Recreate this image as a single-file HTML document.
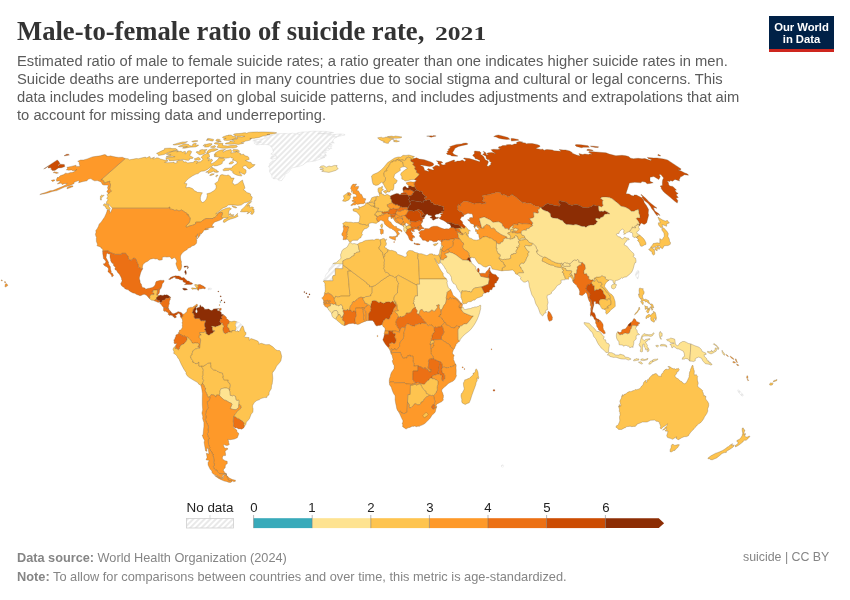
<!DOCTYPE html>
<html><head><meta charset="utf-8">
<style>
html,body{margin:0;padding:0;background:#fff;}
body{width:850px;height:600px;overflow:hidden;position:relative;font-family:"Liberation Sans",sans-serif;}
.abs{position:absolute;white-space:nowrap;will-change:transform;}
#title{left:17px;top:15px;font-family:"Liberation Serif",serif;font-weight:bold;font-size:26.64px;line-height:32px;color:#333;}
#sub{left:16.5px;top:52px;font-size:14.75px;line-height:18px;color:#5b5b5b;}
#foot1{left:16.5px;top:550px;font-size:12.72px;line-height:15px;color:#858585;}
#foot2{left:16.5px;top:569px;font-size:12.8px;line-height:15px;color:#858585;}
#foot3{right:21px;top:549.5px;font-size:12.37px;line-height:15px;color:#858585;}
#logo{left:769px;top:16px;width:65px;height:36px;background:linear-gradient(#002147 0,#002147 33.2px,#ce261e 33.2px,#ce261e 36px);color:#fff;font-weight:bold;font-size:11.3px;line-height:12px;text-align:center;letter-spacing:-0.05px;}
#logo div{margin-top:4.9px;}
.lg{top:500px;width:60px;text-align:center;line-height:15px;color:#222;}
svg{position:absolute;left:0;top:0;}
</style></head><body>
<svg width="850" height="600" viewBox="0 0 850 600">
<defs>
<pattern id="h" width="4" height="4" patternUnits="userSpaceOnUse" patternTransform="translate(2.4,0) rotate(45)"><rect width="4" height="4" fill="#fff"/><line x1="2" y1="-1" x2="2" y2="5" stroke="#e5e5e5" stroke-width="1.65"/></pattern>
</defs>
<g id="map" stroke="#6f5a3a" stroke-width="0.3" stroke-linejoin="round">
<path fill="#fec44f" d="M125.2 158.5L128.1 158.7L129.4 159.8L133.5 159.1L136.3 158.5L138.6 158.7L142.1 157.8L145.6 157.1L145.7 158.0L147.4 157.6L149.2 156.5L150.1 156.7L150.5 158.7L154.6 157.1L152.8 158.9L155.3 158.5L156.7 157.8L158.5 158.0L160.2 158.9L163.2 159.8L165.1 160.2L167.0 160.0L168.1 161.1L164.6 162.3L167.3 162.7L172.1 162.5L174.1 162.0L174.5 163.4L177.5 162.3L176.6 161.4L178.5 160.5L180.6 160.5L182.1 160.2L183.2 160.7L183.7 162.0L185.8 161.8L187.7 162.9L190.8 162.5L193.4 162.5L194.2 161.1L196.1 160.7L198.1 161.6L196.4 163.6L198.9 161.8L200.3 161.8L203.0 159.6L202.3 158.2L201.0 157.4L203.3 155.0L206.7 153.4L208.6 153.7L209.3 154.7L209.6 157.1L207.1 158.2L210.0 158.7L208.0 160.9L211.8 159.1L212.6 160.7L210.9 162.3L211.4 163.9L214.3 162.3L217.0 160.2L219.1 157.8L221.3 158.0L223.6 158.2L225.0 159.4L224.4 160.5L222.1 161.8L222.5 162.9L221.5 164.1L217.1 165.7L214.5 165.9L213.1 165.2L211.8 166.4L208.7 168.4L207.5 169.4L204.3 171.0L201.6 171.2L199.5 172.2L198.3 173.6L196.0 174.1L192.3 176.0L188.6 178.6L186.5 180.5L184.4 183.4L187.0 183.7L186.2 186.1L186.0 187.8L189.0 187.3L192.0 188.3L193.4 189.3L194.0 190.5L195.9 191.3L197.4 192.3L200.4 192.5L202.4 192.8L201.2 194.8L200.4 197.3L200.4 200.1L202.2 202.6L204.2 201.8L206.5 199.0L207.4 195.3L206.8 193.8L210.4 192.8L213.4 191.0L215.5 189.3L216.2 187.6L216.0 185.4L214.7 183.7L218.4 181.0L218.7 178.8L220.3 175.2L222.0 174.5L224.6 175.2L226.3 175.5L228.2 175.0L229.5 175.7L230.9 177.1L230.9 178.1L234.2 178.1L233.1 180.3L232.2 183.2L233.7 183.7L234.5 185.1L237.8 183.7L241.0 181.0L242.5 180.0L243.0 182.2L244.1 185.1L245.0 188.1L243.5 189.8L245.5 191.0L246.6 192.5L249.5 193.3L250.6 194.0L250.6 196.0L251.8 196.5L252.3 197.3L251.5 200.3L249.8 201.1L248.1 202.1L244.4 202.8L241.2 205.1L237.7 205.4L233.5 204.9L230.4 204.9L228.3 205.1L226.0 206.9L223.0 207.9L218.7 211.5L215.6 213.8L217.4 213.3L222.0 210.0L227.0 207.9L230.1 207.7L231.4 209.0L229.1 210.5L228.7 213.3L228.7 215.4L231.0 216.7L234.7 216.2L237.6 213.3L237.3 215.1L238.2 216.2L235.3 217.7L230.1 219.3L227.8 220.3L224.6 222.4L223.2 222.1L223.8 219.8L228.2 217.7L224.8 217.7L222.4 218.2L221.4 216.7L222.6 213.1L222.1 212.3L220.5 212.8L220.1 212.2L217.7 214.1L216.4 216.2L215.2 217.2L214.2 217.7L213.6 217.7L213.1 218.5L209.3 218.5L206.0 218.5L205.0 219.0L202.0 220.8L201.7 221.1L200.7 222.1L196.7 222.1L195.5 222.4L195.8 222.9L195.6 224.0L192.4 225.3L189.9 225.8L187.0 227.1L186.4 227.1L185.9 226.8L185.9 226.1L188.3 223.7L189.5 222.1L189.9 220.1L190.2 217.7L188.7 216.4L189.1 215.9L188.4 215.7L188.2 215.1L188.4 214.6L187.2 214.9L187.0 214.4L187.2 213.6L181.6 210.0L179.4 210.8L178.7 210.8L176.7 210.0L174.8 210.5L173.2 209.6L171.3 209.2L170.0 209.0L169.5 208.7L169.9 207.2L169.2 207.2L168.6 208.2L112.4 208.2L109.8 205.6L109.1 204.6L106.2 203.6L106.8 201.3L108.2 199.8L106.7 198.5L107.9 196.5L107.0 194.8L108.1 193.5L110.1 192.3L111.4 190.8L109.5 189.2L110.2 186.3L110.5 184.6L109.9 183.5L109.6 182.5L109.8 181.2L107.2 182.0L104.0 183.4L103.9 181.8L103.7 180.8L102.6 180.0L100.8 180.0ZM255.1 164.6L253.7 166.2L249.3 168.9L247.6 168.0L246.1 165.7L243.6 166.0L242.7 167.3L243.8 168.7L245.7 169.7L246.1 170.3L246.0 172.6L244.6 174.4L242.5 173.7L239.0 171.8L240.5 173.8L241.8 175.2L241.5 176.1L237.0 175.2L234.0 173.8L232.5 172.6L233.4 171.9L231.4 170.8L229.6 169.6L229.2 170.3L223.7 170.8L222.7 169.9L224.9 168.2L228.3 168.2L232.0 167.9L232.0 167.1L233.3 165.9L236.9 163.6L237.1 162.7L236.9 161.8L235.1 160.7L232.0 160.0L233.5 159.5L232.7 158.0L231.2 158.0L230.4 157.1L229.1 157.8L225.8 158.2L220.2 157.6L217.1 156.9L214.6 156.7L214.0 155.8L216.4 155.0L214.1 155.0L215.4 152.8L218.4 150.9L220.8 150.0L225.5 149.4L223.1 150.7L223.1 152.2L226.1 150.5L231.0 149.5L231.9 151.7L230.7 153.0L234.3 152.5L236.5 151.6L239.2 152.8L240.9 153.7L240.3 154.7L243.8 154.2L244.5 155.6L247.9 156.5L248.8 157.4L249.2 159.4L245.4 160.5L248.6 161.9L251.0 162.4L252.4 164.5ZM192.5 158.5L189.4 158.7L189.6 159.6L188.4 160.4L185.7 160.0L183.2 159.4L181.2 159.6L177.3 160.2L169.3 160.9L169.5 159.8L167.9 159.1L166.2 159.4L165.9 157.7L170.1 157.1L172.5 157.1L175.1 156.7L172.3 156.3L168.5 156.5L166.2 156.5L171.1 154.7L168.5 154.7L166.3 154.2L169.5 152.6L171.6 151.7L177.4 150.5L178.5 150.9L176.7 151.8L181.2 151.1L182.0 152.3L185.1 151.2L185.7 151.9L184.9 154.0L186.6 153.1L187.8 150.9L189.5 150.7L190.9 150.9L191.7 151.8L190.6 153.9L189.6 155.4L191.3 156.5L193.3 157.6ZM168.9 152.2L164.1 154.5L158.5 155.6L158.7 154.7L156.5 153.4L158.2 152.6L161.2 151.1L164.5 149.6L164.5 148.4L170.3 148.1L171.9 148.6L175.8 148.6L176.7 149.2L177.4 150.0L174.6 150.7L168.9 152.2ZM268.2 132.1L271.8 132.2L274.5 132.4L276.7 132.8L276.2 133.2L272.2 134.0L268.5 134.3L266.9 134.6L269.9 134.6L265.7 135.6L262.8 136.1L259.0 137.5L255.7 137.9L254.4 138.3L249.8 138.4L251.7 138.6L250.3 139.0L250.5 139.9L248.6 140.5L245.6 141.1L244.1 141.9L241.5 142.5L241.3 142.9L243.9 142.9L243.5 143.3L238.3 144.5L234.7 144.0L230.0 144.3L227.9 144.1L225.2 143.9L226.0 143.0L229.3 142.5L230.1 141.1L231.2 141.0L234.2 141.9L233.7 140.5L231.7 140.1L233.6 139.4L236.7 139.0L237.9 138.4L236.6 137.7L237.1 136.8L240.9 136.8L241.9 137.0L244.9 136.3L241.8 136.1L236.6 136.3L234.8 135.7L234.6 135.0L233.4 134.5L233.9 134.0L236.4 133.6L238.1 133.6L241.2 133.3L244.0 132.8L245.6 132.8L246.5 133.3L248.7 132.4L250.7 132.2L253.4 132.1L257.7 131.9L258.3 132.1L262.5 131.9L265.3 132.0L268.2 132.1ZM237.0 147.1L235.6 147.6L232.8 148.1L231.1 147.8L226.2 148.2L222.9 148.2L220.6 148.0L217.1 147.3L217.7 146.1L218.6 145.1L218.0 144.3L215.1 144.0L214.1 143.4L215.7 142.6L218.6 142.7L219.6 143.3L222.6 143.3L223.2 144.0L222.0 144.8L223.3 145.2L223.7 145.7L225.8 145.8L227.8 146.0L230.8 145.5L234.1 145.3L236.5 145.5L237.4 146.2L237.0 147.1ZM235.8 137.8L236.8 138.4L234.2 138.9L229.9 140.3L227.0 140.5L224.2 140.2L223.6 139.5L224.4 138.8L226.2 138.3L223.5 138.3L222.6 137.7L222.8 136.9L226.5 135.6L228.1 135.5L228.0 135.1L231.4 135.0L232.0 136.0L235.9 136.7L235.8 137.8ZM195.7 146.9L190.0 147.2L184.9 148.2L182.5 148.2L183.0 147.5L187.4 146.6L180.1 146.8L178.3 146.5L183.2 144.5L185.5 143.9L188.8 144.6L190.0 145.8L192.5 146.0L192.8 144.0L195.2 143.3L196.4 143.5L195.7 144.5L195.4 145.2L197.2 144.9L198.7 145.0L197.8 145.9L195.7 146.9ZM212.7 167.4L212.3 168.4L213.5 168.0L214.1 168.7L215.5 169.4L217.1 170.2L216.5 171.3L218.0 171.1L218.7 171.9L216.6 172.6L214.2 172.1L213.9 171.0L211.3 172.2L208.0 173.5L208.2 172.1L205.7 172.3L208.0 171.1L209.5 169.4L211.5 167.3L212.7 167.4ZM202.2 149.4L203.7 149.8L206.9 149.5L206.8 150.1L204.3 151.1L205.9 152.0L203.8 154.0L200.2 154.8L198.9 154.6L198.4 153.9L196.0 152.2L196.7 151.5L199.9 151.7L199.6 150.3L202.2 149.4ZM211.7 151.5L208.4 153.2L206.7 153.1L207.4 151.2L208.4 150.3L210.2 149.3L212.3 148.7L215.6 148.8L218.2 149.3L214.0 151.2L211.7 151.5ZM211.9 143.5L212.0 144.4L210.8 145.4L208.4 146.9L205.6 147.1L204.3 146.8L205.7 145.6L202.9 145.8L204.8 144.2L206.3 144.3L209.5 143.6L211.5 143.7L211.9 143.5ZM215.6 146.9L213.9 147.8L211.7 147.6L210.4 147.1L212.2 146.2L215.0 145.6L215.6 146.3L215.6 146.9ZM187.5 141.6L185.2 143.1L182.9 143.8L181.4 143.9L177.3 144.8L174.4 145.1L172.9 144.7L172.9 144.7L177.7 143.2L182.7 141.9L185.0 141.9L187.5 141.6ZM196.7 141.5L193.1 142.1L191.7 141.5L193.9 140.8L196.3 140.6L198.0 140.9L196.7 141.5ZM207.9 138.4L210.5 138.7L213.6 139.4L213.4 140.3L213.0 141.1L210.9 140.9L209.2 140.2L206.0 140.2L208.2 139.6L207.0 139.2L207.9 138.4ZM216.0 140.0L217.1 139.2L218.7 139.3L219.5 139.4L220.4 140.1L219.2 140.8L216.5 141.2L215.8 140.7L216.0 140.0ZM220.9 141.8L220.1 141.9L217.5 141.8L217.7 141.2L220.7 141.3L221.3 141.6L220.9 141.8ZM251.0 202.3L249.5 203.9L247.4 206.1L249.1 205.3L250.2 205.8L249.2 206.7L250.8 207.4L251.9 206.8L253.6 207.6L252.5 209.5L254.1 209.0L254.0 210.3L254.2 211.9L252.7 214.2L251.8 214.4L250.5 213.8L251.5 211.8L251.0 211.4L248.0 213.6L246.8 213.6L248.6 212.3L246.8 211.7L244.6 211.9L240.6 211.8L240.6 211.0L242.1 210.1L241.5 209.5L243.6 207.9L247.0 203.9L248.7 202.4L250.8 201.5L251.7 201.6L251.0 202.3ZM110.1 209.5L108.9 209.8L106.2 208.7L106.3 207.7L105.0 206.9L105.2 206.1L103.4 205.6L103.7 204.3L104.3 203.7L106.0 204.2L106.9 204.6L108.6 204.9L108.8 205.6L108.9 207.0L110.2 208.0L110.1 209.5ZM231.8 206.0L232.6 205.7L235.0 206.4L236.7 207.4L236.6 207.9L235.6 208.0L233.2 207.2L231.8 206.0ZM230.4 213.2L230.7 214.5L232.1 214.8L234.1 214.8L232.7 215.8L231.9 216.0L229.6 214.9L229.4 214.0L230.4 213.2ZM101.5 195.1L102.2 195.4L104.2 195.2L101.3 198.1L101.4 200.1L100.6 200.1L100.3 198.9L100.5 197.8L100.2 197.0L100.7 195.9L101.5 195.1ZM194.1 158.9L196.2 158.2L198.3 157.3L199.4 157.9L200.1 158.3L200.2 158.7L200.5 159.6L198.8 160.3L197.1 159.7L195.5 159.9L194.1 158.9ZM211.0 175.6L209.8 175.5L209.8 174.9L211.8 173.8L214.3 173.8L214.0 174.3L211.0 175.6ZM217.1 175.0L217.8 175.1L217.9 175.6L216.5 176.8L215.8 176.6L215.8 175.9L215.9 175.7L217.1 175.0ZM232.8 161.4L233.7 162.0L233.1 163.0L232.7 163.3L231.2 164.0L229.1 164.1L229.4 163.0L231.0 161.7L232.8 161.4ZM234.2 149.5L237.6 149.7L239.5 150.9L239.2 151.5L237.5 151.4L235.8 151.4L233.8 151.6L233.4 151.5L232.6 150.4L233.3 149.6L234.2 149.5Z"/>
<path fill="#fe9929" d="M222.4 218.2L222.3 219.0L219.8 220.3L217.2 221.2L214.9 221.9L213.3 223.4L212.7 224.0L212.2 225.5L212.4 226.8L213.3 226.8L213.3 226.1L213.8 226.6L213.4 227.4L212.0 227.6L210.9 227.6L209.1 228.1L206.8 228.4L204.9 229.2L208.2 228.7L208.7 229.2L205.5 230.0L204.0 230.0L203.8 230.5L202.8 232.3L200.7 234.4L200.7 233.6L200.3 233.6L199.9 232.9L199.9 234.3L200.2 234.7L199.9 235.7L198.9 236.8L197.2 238.9L197.1 238.6L198.2 237.1L197.4 236.0L197.8 233.8L197.1 235.0L197.0 236.5L195.6 236.3L196.9 237.1L196.2 239.5L196.9 239.7L196.8 240.6L196.5 243.2L194.5 245.2L192.0 246.0L190.2 247.6L189.1 247.7L187.7 248.6L187.2 249.5L184.3 251.3L182.8 252.5L181.4 254.2L180.5 256.0L180.5 257.9L180.8 260.0L181.5 261.8L181.3 263.2L181.7 266.1L181.3 267.9L181.1 269.0L180.2 270.5L179.5 270.8L178.4 270.5L178.3 269.5L177.6 268.7L176.8 266.6L176.1 264.5L175.9 263.4L176.7 261.7L176.5 260.2L175.1 258.1L174.3 257.6L171.8 258.9L171.4 258.7L170.6 257.5L169.4 256.8L166.9 257.1L164.9 256.8L163.1 257.1L162.1 257.5L162.4 258.1L162.1 259.2L162.4 259.7L161.9 260.1L161.1 259.7L160.2 260.2L158.5 260.1L157.3 258.7L155.2 259.1L153.8 258.4L152.3 258.7L150.2 259.2L147.7 261.3L145.2 262.4L143.8 263.7L142.9 264.7L142.5 266.6L142.4 267.9L142.7 268.7L141.8 269.0L140.3 268.2L138.7 267.4L138.3 266.3L138.2 264.5L137.2 262.9L136.7 261.3L136.2 259.5L134.8 258.4L133.0 258.4L131.1 260.6L129.5 259.7L128.4 258.9L128.3 257.6L128.0 256.3L127.0 255.0L126.2 254.2L125.6 253.3L121.8 253.3L121.4 254.4L119.6 254.4L115.2 254.4L110.7 252.6L107.8 251.3L108.2 250.8L102.7 251.3L102.8 249.8L102.0 248.4L101.0 248.1L101.1 247.3L99.9 247.1L99.5 246.4L97.4 246.1L97.1 245.7L97.5 244.2L96.4 241.5L96.3 238.0L96.6 237.3L96.0 236.5L95.4 234.3L96.1 232.1L95.7 230.8L97.2 228.7L98.5 226.3L99.1 224.2L101.3 221.9L102.9 219.5L104.5 217.2L106.2 213.6L106.9 211.5L107.1 210.2L107.7 209.7L110.1 210.8L109.7 213.1L110.8 212.3L112.4 208.2L112.4 208.2L168.6 208.2L169.2 207.2L169.9 207.2L169.5 208.7L170.0 209.0L171.3 209.2L173.2 209.6L174.8 210.5L176.7 210.0L178.7 210.8L179.4 210.8L181.6 210.0L187.2 213.6L187.0 214.4L187.2 214.9L188.4 214.6L188.2 215.1L188.4 215.7L189.1 215.9L188.7 216.4L190.2 217.7L189.9 220.1L189.5 222.1L188.3 223.7L185.9 226.1L185.9 226.8L186.4 227.1L187.0 227.1L189.9 225.8L192.4 225.3L195.6 224.0L195.8 222.9L195.5 222.4L196.7 222.1L200.7 222.1L201.7 221.1L202.0 220.8L205.0 219.0L206.0 218.5L209.3 218.5L213.1 218.5L213.6 217.7L214.2 217.7L215.2 217.2L216.4 216.2L217.7 214.1L220.1 212.2L220.5 212.8L222.1 212.3L222.6 213.1L221.4 216.7ZM125.2 158.5L122.4 157.3L118.7 157.4L115.9 157.1L113.3 156.5L110.0 155.8L109.2 156.3L106.2 156.1L106.4 155.1L104.5 154.6L100.2 155.8L94.5 156.6L92.3 156.9L87.2 158.9L83.5 160.0L80.5 160.0L77.7 161.3L79.1 162.0L79.4 162.9L79.1 164.1L79.9 165.0L79.5 166.4L75.8 166.4L76.1 165.2L71.3 166.4L67.0 167.3L67.6 168.7L66.3 169.8L68.6 170.2L71.7 169.9L72.1 170.5L75.0 170.8L77.0 169.4L74.2 171.7L71.9 172.5L70.6 172.4L67.9 173.4L65.4 173.2L63.8 174.5L60.2 175.8L57.9 178.1L57.7 177.1L56.3 179.5L56.7 181.2L60.0 180.8L60.0 181.7L58.9 182.4L57.3 184.0L61.3 183.0L62.1 184.6L64.2 183.7L67.2 183.4L65.6 184.9L62.4 186.6L59.9 187.6L52.8 190.5L50.0 190.8L46.4 192.2L40.7 194.0L39.8 194.6L44.3 193.8L47.6 193.0L52.1 191.5L56.8 190.6L64.5 187.1L67.2 186.3L70.5 185.2L74.1 183.5L74.1 182.3L78.6 180.6L79.1 181.4L78.6 182.7L80.6 182.2L83.1 181.5L87.0 180.8L88.4 179.1L91.0 178.6L92.1 179.6L94.5 180.8L97.3 180.6L99.7 181.4L101.0 181.9L102.4 184.4L103.9 185.1L106.9 185.1L108.5 185.3L107.5 187.6L108.1 189.6L106.7 191.8L107.8 192.5L108.1 193.5L110.1 192.3L111.4 190.8L109.5 189.2L110.2 186.3L110.5 184.6L109.9 183.5L109.6 182.5L109.8 181.2L107.2 182.0L104.0 183.4L103.9 181.8L103.7 180.8L102.6 180.0L100.8 180.0ZM70.0 187.8L67.1 188.8L66.9 188.1L67.8 186.9L70.4 186.1L71.9 185.7L73.0 185.9L73.0 186.6L70.0 187.8ZM54.6 171.7L55.1 172.2L56.5 172.0L57.1 172.6L58.5 172.9L58.0 173.1L56.0 173.6L55.3 173.1L55.2 172.7L53.4 172.8L53.3 172.6L54.6 171.7ZM54.0 181.0L52.4 181.4L51.8 180.9L51.4 180.3L53.8 179.8L55.0 180.1L54.0 181.0ZM5.9 286.7L5.4 287.1L5.0 286.7L5.2 286.0L5.0 285.0L5.9 283.5L7.2 284.3L7.8 285.6L5.9 286.7ZM5.6 282.6L4.8 282.7L4.3 282.0L4.6 281.6L5.4 281.8L5.9 282.2L5.6 282.6ZM2.4 280.8L2.3 280.9L1.3 280.8L1.2 280.2L1.9 279.8L2.4 280.8ZM-1.0 279.0L-1.3 279.3L-2.0 278.8L-1.4 278.3L-0.9 278.4L-1.0 279.0Z"/>
<path fill="#ec7014" d="M142.7 268.7L141.4 271.1L140.6 272.9L139.7 276.6L139.3 277.9L139.5 279.2L140.0 280.6L140.2 282.7L141.5 284.5L141.7 286.1L142.5 287.4L144.9 288.0L145.7 289.2L147.8 288.5L149.5 288.2L151.4 287.7L152.8 287.2L154.4 286.1L155.2 284.6L155.7 282.4L156.1 281.6L157.8 280.9L160.4 280.3L162.3 280.4L163.7 280.2L164.2 280.8L163.9 282.0L162.5 283.6L161.8 285.2L162.1 285.6L161.6 286.8L160.8 288.8L160.3 288.2L159.8 288.2L159.3 288.7L158.5 289.8L158.0 289.5L157.7 289.6L157.6 290.1L155.5 290.1L153.4 290.1L153.2 291.5L152.1 291.5L152.9 292.4L153.7 293.0L153.9 293.6L154.2 293.7L154.0 294.6L151.1 294.6L149.7 296.8L150.0 297.3L149.7 297.9L149.5 298.7L147.2 295.9L146.1 295.0L144.3 294.3L143.0 294.5L141.1 295.5L139.9 295.7L138.3 295.0L136.7 294.5L134.7 293.3L133.0 293.0L130.6 291.7L128.8 290.4L128.4 289.8L127.0 289.6L124.9 288.7L124.1 287.5L121.8 286.1L120.9 284.4L120.7 283.2L121.4 282.9L121.3 282.1L121.9 281.4L122.1 280.6L121.5 279.3L121.5 278.3L120.9 276.9L119.4 274.3L117.5 272.2L116.7 270.6L115.0 269.5L114.8 268.9L115.5 267.3L114.5 266.6L113.5 265.4L113.4 263.5L112.2 263.3L111.3 261.9L110.6 260.6L110.7 259.8L110.1 257.8L109.9 255.8L110.3 254.8L109.0 253.7L108.2 253.9L107.2 253.1L106.5 254.2L106.4 255.5L106.0 257.5L106.5 258.5L107.6 260.4L107.8 261.0L108.1 261.2L108.1 262.1L108.5 262.0L108.5 263.7L109.0 264.4L109.3 265.3L110.4 266.7L110.5 269.1L110.9 270.3L111.3 271.5L111.1 272.9L112.2 273.0L112.9 274.2L113.5 275.4L113.4 275.8L112.2 276.8L111.8 276.8L111.5 275.2L110.3 273.7L108.9 272.4L107.9 271.7L108.4 269.8L108.4 268.4L107.5 267.6L106.3 266.4L105.9 266.7L105.5 266.1L104.2 265.4L103.3 263.9L103.5 263.7L104.4 263.8L105.5 262.8L105.9 261.6L104.8 259.8L103.7 259.0L103.3 257.4L103.1 255.7L102.7 253.5L102.7 251.2L102.7 251.3L108.2 250.8L107.8 251.3L110.7 252.6L115.2 254.4L119.6 254.4L121.4 254.4L121.8 253.3L125.6 253.3L126.2 254.2L127.0 255.0L128.0 256.3L128.3 257.6L128.4 258.9L129.5 259.7L131.1 260.6L133.0 258.4L134.8 258.4L136.2 259.5L136.7 261.3L137.2 262.9L138.2 264.5L138.3 266.3L138.7 267.4L140.3 268.2L141.8 269.0Z"/>
<path fill="url(#h)" stroke="#c8c8c8" d="M297.6 132.8L302.9 131.9L307.6 131.9L309.7 131.4L314.6 131.2L325.4 131.4L333.6 132.6L330.8 133.2L325.5 133.3L317.9 133.5L318.4 133.8L323.5 133.6L327.5 134.1L330.4 133.7L331.4 134.2L329.5 135.2L333.3 134.6L340.3 133.9L344.4 134.3L345.1 135.0L339.0 136.2L338.1 136.6L333.5 136.9L336.8 137.0L334.8 138.3L333.3 139.5L332.8 141.6L334.3 142.9L331.9 143.0L329.2 143.6L331.8 144.7L331.8 146.4L330.1 146.6L331.7 148.4L328.1 148.5L329.8 149.4L329.1 150.1L326.8 150.4L324.6 150.4L326.3 151.9L326.1 152.8L323.0 151.9L322.1 152.5L324.2 153.1L326.0 154.4L326.3 156.1L323.2 156.6L322.1 155.7L320.4 154.5L320.6 155.9L318.4 157.1L322.8 157.2L325.0 157.3L320.1 159.2L315.1 161.0L309.9 161.7L308.0 161.8L306.0 162.6L302.9 165.0L298.7 166.6L297.5 166.7L295.0 167.3L292.3 167.8L290.3 169.3L289.7 170.9L288.3 172.5L284.8 174.3L284.9 176.2L283.4 178.2L281.8 180.5L279.1 180.7L277.0 178.7L273.3 178.7L272.0 177.4L271.7 175.1L269.7 172.1L269.4 170.6L270.0 168.5L268.5 166.4L269.9 164.7L269.1 163.9L272.0 161.2L274.9 160.4L276.0 159.5L277.2 157.7L274.9 158.5L273.8 158.8L272.1 159.2L270.4 158.4L271.1 157.0L272.3 155.8L273.8 155.7L276.9 156.3L274.8 155.0L273.7 154.2L271.9 154.5L270.8 154.0L273.7 152.0L273.1 151.2L272.7 149.7L272.1 147.5L270.6 146.7L271.2 145.9L267.9 144.7L264.7 144.5L260.5 144.6L256.6 144.8L255.4 144.1L253.8 142.9L258.3 142.2L261.5 142.1L255.5 141.6L252.8 140.8L253.7 140.1L260.2 139.2L266.3 138.3L267.5 137.6L264.1 137.0L266.0 136.3L272.0 135.1L274.3 134.9L274.3 134.2L278.0 133.7L282.5 133.5L286.9 133.5L288.0 134.0L292.4 133.1L295.2 133.7L297.1 133.8L299.7 134.4L296.9 133.5L297.6 132.8Z"/>
<path fill="#fec44f" d="M149.5 298.7L151.7 300.3L153.1 300.3L154.2 300.8L155.2 299.7L155.7 299.4L156.1 299.0L156.7 298.3L156.6 297.4L157.9 296.5L159.1 295.5L158.2 295.6L157.5 295.1L156.8 295.1L157.4 292.2L157.6 290.1L155.5 290.1L153.4 290.1L153.2 291.5L152.1 291.5L152.9 292.4L153.7 293.0L153.9 293.6L154.2 293.7L154.0 294.6L151.1 294.6L149.7 296.8L150.0 297.3L149.7 297.9L149.5 298.7Z"/>
<path fill="#ec7014" d="M157.6 290.1L157.7 289.6L158.0 289.5L158.5 289.8L159.3 288.7L159.8 288.2L160.2 288.6L160.1 289.3L159.5 290.5L159.7 290.9L159.4 291.8L159.5 292.1L159.0 293.4L158.5 294.1L158.1 294.2L157.5 295.1L156.8 295.1L157.4 292.2L157.6 290.1Z"/>
<path fill="#ec7014" d="M154.2 300.8L156.1 301.5L157.8 302.3L159.2 302.3L159.5 301.7L159.7 300.6L159.0 300.2L158.0 300.5L157.9 300.1L157.2 299.7L156.8 299.2L156.1 299.0L156.1 299.0L155.7 299.4L155.2 299.7L154.2 300.8Z"/>
<path fill="#8c2d04" d="M156.7 298.3L156.6 297.4L157.9 296.5L159.1 295.5L159.3 295.6L159.9 295.2L160.6 295.1L162.2 295.4L163.2 295.4L164.3 294.8L165.0 294.9L165.6 295.1L166.6 294.8L168.0 295.2L169.3 296.3L170.1 296.7L170.6 297.4L169.8 297.4L169.5 297.8L167.5 298.4L166.5 298.0L165.9 298.6L164.2 300.5L163.5 300.0L162.0 300.7L161.9 302.0L161.2 302.6L160.5 302.8L160.2 301.9L159.5 301.7L159.7 300.6L159.0 300.2L158.0 300.5L157.9 300.1L157.2 299.7L156.8 299.2L156.1 299.0Z"/>
<path fill="#ec7014" d="M160.5 302.8L161.2 302.6L161.9 302.0L162.0 300.7L163.5 300.0L164.2 300.5L165.9 298.6L166.5 298.0L167.5 298.4L169.5 297.8L169.8 297.4L170.6 297.4L170.4 297.7L170.2 298.3L170.4 299.3L169.7 300.2L169.4 301.2L169.2 302.4L169.3 303.1L169.3 304.2L168.9 304.5L168.6 305.6L168.7 306.3L168.2 307.0L168.2 307.7L168.5 308.1L167.3 308.5L166.9 308.0L166.2 307.8L165.3 307.4L164.2 307.4L163.8 307.8L163.1 306.9L162.1 305.9L161.6 305.0L160.7 304.1L159.7 303.0L159.9 302.6L160.3 303.0Z"/>
<path fill="#ec7014" d="M163.8 307.8L164.2 307.4L165.3 307.4L166.2 307.8L166.9 308.0L167.3 308.5L168.5 308.1L169.0 309.6L169.9 310.6L170.9 311.8L170.0 312.0L169.9 313.1L170.4 313.4L170.0 313.8L170.1 314.2L169.9 314.8L169.7 315.3L168.5 314.7L168.0 314.2L168.3 313.7L168.3 313.1L167.7 312.5L166.8 312.0L166.0 311.6L165.9 310.9L165.3 310.4L165.4 311.2L164.9 311.8L164.4 311.1L163.7 310.8L163.4 310.3L163.5 309.5L163.9 308.6L163.2 308.3Z"/>
<path fill="#cc4c02" d="M169.7 315.3L169.9 314.8L170.1 314.2L170.0 313.8L170.4 313.4L169.9 313.1L170.0 312.0L170.9 311.8L171.7 312.7L171.6 313.3L172.5 313.4L172.7 313.2L173.3 313.8L174.5 313.6L175.5 313.0L177.0 312.4L177.8 311.7L179.1 311.8L179.0 312.1L180.2 312.2L181.2 312.6L182.0 313.4L182.8 314.1L182.5 314.5L183.0 316.1L182.5 316.8L181.8 316.7L181.4 318.0L180.7 317.2L180.2 315.8L180.8 315.1L180.2 314.9L179.9 314.0L178.7 313.3L177.7 313.4L177.2 314.4L176.2 315.0L175.7 315.1L175.5 315.7L176.5 317.1L175.9 317.4L175.5 317.8L174.4 318.0L174.1 316.4L173.8 316.8L173.0 316.7L172.6 315.6L171.6 315.4L171.1 315.1L170.1 315.1L170.0 315.7Z"/>
<path fill="#cc4c02" d="M175.2 275.8L177.1 276.0L178.9 276.0L180.9 276.9L181.7 277.9L183.9 277.6L184.6 278.2L186.3 279.9L187.6 281.1L188.4 281.0L189.7 281.6L189.4 282.3L191.1 282.4L192.7 283.5L192.4 284.1L190.8 284.5L189.3 284.6L187.7 284.4L184.4 284.6L186.1 283.2L185.3 282.5L183.8 282.3L183.1 281.5L182.7 280.0L181.5 280.1L179.4 279.4L178.8 278.9L175.9 278.5L175.1 277.9L176.1 277.3L173.8 277.2L172.0 278.5L171.1 278.6L170.7 279.2L169.5 279.5L168.6 279.2L169.9 278.4L170.5 277.5L171.6 276.9L172.8 276.4L174.6 276.1Z"/>
<path fill="#fec44f" d="M194.9 284.5L196.3 284.6L198.2 285.0L198.3 286.4L198.0 287.4L197.4 287.9L197.9 288.7L197.7 289.4L196.3 289.0L195.2 289.1L193.8 288.9L192.7 289.4L191.5 288.6L191.8 287.8L193.9 288.1L195.6 288.3L196.5 287.8L195.6 286.6L195.7 285.6L194.3 285.2Z"/>
<path fill="#ec7014" d="M198.2 285.0L198.5 284.6L200.3 284.6L201.6 285.3L202.2 285.2L202.5 286.1L203.8 286.1L203.7 286.8L204.7 286.9L205.7 287.9L204.7 289.0L203.7 288.4L202.6 288.5L201.9 288.4L201.4 288.9L200.5 289.1L200.2 288.4L199.4 288.8L198.3 290.6L197.8 290.2L197.7 289.4L197.9 288.7L197.4 287.9L198.0 287.4L198.3 286.4Z"/>
<path fill="#8c2d04" d="M184.4 288.2L185.9 288.5L187.1 289.1L187.4 289.8L185.8 289.9L185.0 290.3L183.8 289.9L182.6 288.9L182.9 288.3L183.9 288.2Z"/>
<path fill="url(#h)" stroke="#c8c8c8" d="M210.3 288.2L211.5 288.4L211.8 288.9L211.2 289.6L209.5 289.6L208.1 289.7L208.1 288.5L208.5 288.2Z"/>
<path fill="#8c2d04" d="M186.2 274.3L185.6 274.5L185.2 272.9L184.5 272.2L185.2 270.5L185.9 270.6L186.4 272.8ZM186.6 266.9L184.1 267.3L184.1 266.3L185.2 266.1L186.7 266.2ZM188.5 266.9L187.8 268.7L187.4 268.4L187.7 267.0L186.9 266.0L186.9 265.7Z"/>
<path fill="#ec7014" d="M219.4 308.6L220.8 308.3L221.3 308.4L221.1 310.3L219.1 310.6L218.7 310.4L219.4 309.6Z"/>
<path fill="#fe9929" d="M182.8 314.1L184.0 314.2L185.8 312.4L186.8 312.1L186.9 311.2L187.4 309.0L188.8 307.8L190.3 307.7L190.5 307.2L192.3 307.4L194.2 306.1L195.2 305.5L196.4 304.2L197.2 304.3L197.7 305.1L197.2 305.9L195.7 306.4L195.0 307.7L194.1 308.5L193.4 309.4L193.0 311.3L192.3 312.9L193.5 313.0L193.7 314.2L194.2 314.8L194.3 315.9L194.0 316.9L194.1 317.4L194.6 317.6L195.1 318.6L198.2 318.3L199.5 318.6L201.0 320.9L202.0 320.6L203.6 320.8L205.0 320.5L205.8 320.9L205.3 322.3L204.8 323.2L204.6 325.1L205.0 326.9L205.6 327.7L205.7 328.2L204.5 329.6L205.3 330.1L205.9 331.1L206.6 333.7L206.1 334.0L205.7 332.5L205.1 331.6L204.3 332.5L199.8 332.5L199.8 334.1L201.1 334.4L201.1 335.4L200.6 335.1L199.3 335.6L199.3 337.5L200.3 338.5L200.7 340.0L200.6 341.1L199.7 348.3L198.5 346.9L197.8 346.9L199.3 344.2L197.5 343.0L196.1 343.2L195.2 342.7L193.9 343.4L192.2 343.1L190.8 340.3L189.7 339.6L189.0 338.4L187.4 337.2L186.8 337.4L185.8 336.8L184.6 335.9L184.0 336.3L182.0 335.9L181.4 334.8L181.0 334.9L178.7 333.4L178.4 332.5L179.3 332.3L179.2 331.0L179.7 330.1L180.9 329.9L181.9 328.2L182.8 326.8L182.0 326.2L182.5 324.7L182.1 322.3L182.6 321.6L182.3 319.4L181.4 318.0L181.8 316.7L182.5 316.8L183.0 316.1L182.5 314.5L182.8 314.1Z"/>
<path fill="#8c2d04" d="M197.2 305.9L197.1 306.6L195.7 306.9L196.4 308.1L196.3 309.4L195.2 311.0L196.0 313.1L197.0 312.9L197.6 311.0L196.9 310.1L196.9 308.1L199.9 307.0L199.7 305.7L200.5 304.9L201.2 306.8L202.9 306.8L204.3 308.3L204.3 309.2L206.4 309.2L208.9 308.9L210.1 310.1L211.9 310.4L213.3 309.6L213.3 308.9L216.2 308.8L219.0 308.7L217.0 309.5L217.7 310.8L219.5 311.0L221.2 312.3L221.5 314.4L222.7 314.3L223.6 314.9L221.7 316.5L221.5 317.4L222.2 318.4L221.7 318.9L220.2 319.3L220.2 320.6L219.6 321.3L221.1 323.3L221.4 324.0L220.5 325.0L217.9 326.0L216.2 326.4L215.5 327.1L213.7 326.4L212.0 326.1L211.5 326.3L212.5 327.0L212.4 328.7L212.7 330.4L214.7 330.6L214.8 331.2L213.1 331.9L212.8 333.1L211.9 333.5L210.1 334.1L209.7 334.9L207.9 335.1L206.6 333.7L206.6 333.7L205.9 331.1L205.3 330.1L204.5 329.6L205.7 328.2L205.6 327.7L205.0 326.9L204.6 325.1L204.8 323.2L205.3 322.3L205.8 320.9L205.0 320.5L203.6 320.8L202.0 320.6L201.0 320.9L199.5 318.6L198.2 318.3L195.1 318.6L194.6 317.6L194.1 317.4L194.0 316.9L194.3 315.9L194.2 314.8L193.7 314.2L193.5 313.0L192.3 312.9L193.0 311.3L193.4 309.4L194.1 308.5L195.0 307.7L195.7 306.4L197.2 305.9Z"/>
<path fill="#ec7014" d="M223.6 314.9L225.1 315.9L226.5 317.6L226.5 319.0L227.4 319.0L228.6 320.3L229.5 321.3L229.1 323.6L227.6 324.3L227.7 324.9L227.3 326.3L228.3 328.2L229.0 328.2L229.3 329.7L230.7 332.0L230.1 332.1L228.8 331.9L228.1 332.6L227.0 333.0L226.3 333.1L226.0 333.7L224.9 333.5L223.4 332.3L223.3 331.1L222.7 329.7L223.1 327.5L223.8 326.6L223.3 325.3L222.5 324.9L222.8 323.8L222.3 323.2L221.1 323.3L221.1 323.3L219.6 321.3L220.2 320.6L220.2 319.3L221.7 318.9L222.2 318.4L221.5 317.4L221.7 316.5L223.6 314.9Z"/>
<path fill="#fec44f" d="M229.5 321.3L232.3 321.8L232.5 321.3L234.4 321.1L236.9 321.8L235.6 324.1L235.8 325.9L236.7 327.5L236.2 328.6L236.0 329.8L235.4 330.9L234.1 330.4L233.0 330.6L232.0 330.4L231.8 331.1L232.2 331.7L232.0 332.2L230.7 332.0L230.7 332.0L229.3 329.7L229.0 328.2L228.3 328.2L227.3 326.3L227.7 324.9L227.6 324.3L229.1 323.6L229.5 321.3Z"/>
<path fill="url(#h)" stroke="#c8c8c8" d="M236.9 321.8L237.7 322.1L239.4 322.7L241.8 324.9L242.2 326.0L240.7 328.5L240.0 330.4L239.1 331.4L238.0 331.6L237.7 330.9L237.1 330.7L236.4 331.4L235.4 330.9L235.4 330.9L236.0 329.8L236.2 328.6L236.7 327.5L235.8 325.9L235.6 324.1L236.9 321.8Z"/>
<path fill="#ec7014" d="M178.7 333.4L181.0 334.9L181.4 334.8L182.0 335.9L184.0 336.3L184.6 335.9L185.8 336.8L186.8 337.4L187.1 339.4L186.4 341.1L183.9 343.9L181.1 344.9L179.8 347.2L179.4 349.0L178.1 350.1L177.1 348.7L176.1 348.5L175.2 348.7L175.1 347.7L175.7 347.1L175.4 346.0L176.6 344.0L176.1 342.9L175.2 344.1L173.8 342.9L174.3 342.2L173.8 339.8L174.7 339.4L175.1 337.7L176.0 336.1L175.8 335.0L177.1 334.4Z"/>
<path fill="#fec44f" d="M199.7 348.3L197.6 348.2L197.3 348.6L195.4 349.1L192.8 350.9L192.7 352.1L192.1 353.1L192.4 354.5L191.0 355.3L191.1 356.4L190.5 356.8L191.6 359.2L192.9 360.8L192.5 362.0L194.0 362.1L195.0 363.5L197.0 363.6L198.9 362.0L198.9 366.0L200.0 366.3L201.3 365.9L203.5 370.1L203.1 371.0L203.1 372.9L203.2 375.1L202.4 376.4L202.9 377.4L202.5 378.3L203.7 380.5L202.5 383.4L202.0 384.7L200.9 385.4L198.4 383.9L198.1 382.8L193.3 380.1L188.9 377.3L187.0 375.6L185.9 373.4L186.2 372.7L183.9 369.2L181.3 364.4L178.9 359.1L177.8 357.9L177.0 356.0L175.2 354.2L173.5 353.2L174.2 352.0L173.0 349.5L173.6 347.7L175.4 346.0L175.7 347.1L175.1 347.7L175.2 348.7L176.1 348.5L177.1 348.7L178.1 350.1L179.4 349.0L179.8 347.2L181.1 344.9L183.9 343.9L186.4 341.1L187.1 339.4L186.8 337.4L186.8 337.4L187.4 337.2L189.0 338.4L189.7 339.6L190.8 340.3L192.2 343.1L193.9 343.4L195.2 342.7L196.1 343.2L197.5 343.0L199.3 344.2L197.8 346.9L198.5 346.9Z"/>
<path fill="#fec44f" d="M201.3 365.9L203.0 366.1L204.2 366.0L204.7 365.2L206.7 364.2L207.8 363.2L210.8 362.7L210.7 364.7L211.0 365.7L210.9 367.5L213.6 369.9L216.2 370.3L217.2 371.3L218.8 371.8L219.8 372.6L221.2 372.6L222.6 373.3L222.8 374.8L223.3 375.6L223.4 376.8L222.8 376.8L223.9 379.9L228.3 380.0L228.1 381.5L228.4 382.5L229.7 383.3L230.4 384.9L230.2 387.0L229.6 388.2L230.0 389.7L229.3 390.2L229.2 389.4L227.0 388.1L224.8 388.0L220.9 388.8L220.0 391.1L220.1 392.5L219.5 395.7L219.1 395.1L216.5 395.0L215.8 397.1L214.3 395.2L211.2 394.6L209.6 397.0L208.0 397.3L206.7 393.7L205.1 390.7L205.6 388.2L204.3 387.1L203.8 385.2L202.5 383.4L202.5 383.4L203.7 380.5L202.5 378.3L202.9 377.4L202.4 376.4L203.2 375.1L203.1 372.9L203.1 371.0L203.5 370.1Z"/>
<path fill="#fee391" d="M229.3 390.2L230.1 391.7L230.3 395.3L232.7 395.8L233.6 395.3L235.2 396.0L235.7 396.8L236.1 399.2L236.5 400.2L237.4 400.3L238.2 399.9L239.1 400.4L239.2 401.8L239.0 403.4L238.8 404.9L238.7 407.2L236.9 409.2L235.1 409.7L232.6 409.3L230.2 408.5L231.9 404.5L231.5 403.4L229.0 402.3L226.0 400.4L224.1 400.0L219.5 395.7L219.5 395.7L220.1 392.5L220.0 391.1L220.9 388.8L224.8 388.0L227.0 388.1L229.2 389.4Z"/>
<path fill="#ec7014" d="M233.6 416.7L235.0 416.4L237.6 418.4L238.4 418.4L240.9 420.1L242.9 421.5L244.5 423.3L243.7 424.6L244.6 426.1L243.9 427.7L241.7 429.2L240.0 428.7L238.8 428.9L236.6 427.8L235.1 427.9L233.5 426.4L233.4 424.7L233.7 424.1L233.2 421.5L233.4 418.8L233.6 416.7Z"/>
<path fill="#fe9929" d="M219.5 395.7L224.1 400.0L226.0 400.4L229.0 402.3L231.5 403.4L231.9 404.5L230.2 408.5L232.6 409.3L235.1 409.7L236.9 409.2L238.7 407.2L238.8 404.9L239.8 404.4L241.1 405.9L241.3 408.0L239.6 409.5L238.2 410.5L236.0 413.1L233.6 416.7L233.6 416.7L233.4 418.8L233.2 421.5L233.7 424.1L233.4 424.7L233.5 426.4L233.6 427.8L236.8 430.1L236.9 431.9L238.5 433.0L238.7 434.3L237.3 437.7L234.4 439.1L230.2 439.7L227.8 439.4L228.6 440.9L228.7 442.9L229.4 444.2L228.4 445.2L226.3 445.5L224.0 444.6L223.3 445.2L224.4 447.8L226.1 448.6L227.0 447.8L228.0 449.1L226.3 450.0L225.1 451.6L225.6 454.2L225.5 455.6L223.6 455.6L222.4 456.9L222.4 458.9L225.0 460.7L227.2 461.3L227.3 463.6L225.4 465.0L225.1 468.0L223.7 469.0L223.3 470.2L225.0 472.9L227.0 474.3L226.1 474.2L224.1 473.8L219.1 473.5L217.6 472.0L216.9 470.1L215.6 470.2L214.5 469.3L213.2 466.6L214.4 465.5L214.4 463.9L213.7 462.6L213.9 460.4L213.5 456.9L212.7 455.4L213.5 454.9L212.9 454.0L211.8 453.4L212.1 452.4L210.8 451.4L209.3 448.3L210.0 447.8L208.6 444.6L208.3 442.0L208.2 439.6L209.3 438.7L207.9 436.1L207.3 433.7L208.5 432.0L207.9 429.8L208.5 427.2L208.0 424.8L207.3 424.3L205.3 419.7L206.2 417.0L205.5 414.5L205.9 412.1L206.9 409.6L208.3 407.9L207.5 406.9L207.8 406.1L207.1 401.7L209.4 400.4L209.9 397.6L209.6 397.0L209.6 397.0L211.2 394.6L214.3 395.2L215.8 397.1L216.5 395.0L219.1 395.1ZM226.3 475.1L227.6 476.2L229.3 478.1L232.5 479.6L235.5 480.2L235.2 481.5L233.4 481.6L232.0 480.7L230.8 480.7L228.7 480.7Z"/>
<path fill="#fe9929" d="M202.5 383.4L203.8 385.2L204.3 387.1L205.6 388.2L205.1 390.7L206.7 393.7L208.0 397.3L209.6 397.0L209.9 397.6L209.4 400.4L207.1 401.7L207.8 406.1L207.5 406.9L208.3 407.9L206.9 409.6L205.9 412.1L205.5 414.5L206.2 417.0L205.3 419.7L207.3 424.3L208.0 424.8L208.5 427.2L207.9 429.8L208.5 432.0L207.3 433.7L207.9 436.1L209.3 438.7L208.2 439.6L208.3 442.0L208.6 444.6L210.0 447.8L209.3 448.3L210.8 451.4L212.1 452.4L211.8 453.4L212.9 454.0L213.5 454.9L212.7 455.4L213.5 456.9L213.9 460.4L213.7 462.6L214.4 463.9L214.4 465.5L213.2 466.6L214.5 469.3L215.6 470.2L216.9 470.1L217.6 472.0L219.1 473.5L224.1 473.8L226.1 474.2L227.0 474.3L224.3 474.2L223.6 474.8L222.2 475.7L222.9 478.1L222.1 478.1L219.5 477.3L216.5 475.6L213.3 474.1L212.0 472.5L211.9 471.0L210.2 469.3L208.1 465.0L208.0 462.5L209.4 460.5L206.0 459.8L207.1 457.5L206.3 453.2L209.0 454.1L208.2 448.7L206.6 448.0L207.0 451.3L205.6 450.9L204.9 447.1L204.1 442.3L204.6 440.5L203.2 437.9L202.2 435.0L203.1 434.9L203.4 430.7L203.9 426.4L203.9 422.5L202.6 418.6L202.8 416.4L201.9 413.1L202.7 409.9L202.3 404.8L202.3 399.3L202.4 393.4L201.8 389.1L200.9 385.4L202.0 384.7ZM226.3 475.1L228.7 480.7L230.8 480.7L232.0 480.7L231.8 481.7L230.5 482.5L229.5 482.4L228.3 482.2L226.5 481.5L224.3 481.1L221.2 479.7L218.6 478.4L214.6 475.6L216.5 476.1L220.0 477.8L223.0 478.7L223.5 477.5L223.4 475.8L224.8 474.8Z"/>
<path fill="#fec44f" d="M242.2 326.0L242.9 325.9L243.5 327.4L244.7 332.0L246.0 332.4L246.0 334.2L244.3 336.4L245.0 337.2L249.1 337.6L249.2 340.3L251.0 338.5L253.9 339.5L257.8 341.1L258.9 342.6L258.6 344.1L261.3 343.3L265.8 344.7L269.3 344.6L272.8 346.8L275.8 349.7L277.6 350.5L279.6 350.6L280.4 351.4L281.3 354.8L281.7 356.4L280.9 360.7L279.7 362.5L276.6 366.1L275.2 369.1L273.6 371.4L273.0 371.4L272.4 373.4L272.8 378.3L272.4 382.4L272.2 384.1L271.6 385.2L271.3 388.7L269.2 392.1L269.0 394.9L267.2 396.0L266.8 397.6L264.3 397.6L260.8 398.6L259.3 399.8L256.8 400.5L254.3 402.6L252.7 405.3L252.6 407.2L253.1 408.7L253.0 411.4L252.6 412.6L251.2 414.1L249.4 418.7L247.7 420.8L246.4 422.1L245.8 424.6L244.6 426.1L244.6 426.1L243.7 424.6L244.5 423.3L242.9 421.5L240.9 420.1L238.4 418.4L237.6 418.4L235.0 416.4L233.6 416.7L233.6 416.7L236.0 413.1L238.2 410.5L239.6 409.5L241.3 408.0L241.1 405.9L239.8 404.4L238.8 404.9L238.8 404.9L239.0 403.4L239.2 401.8L239.1 400.4L238.2 399.9L237.4 400.3L236.5 400.2L236.1 399.2L235.7 396.8L235.2 396.0L233.6 395.3L232.7 395.8L230.3 395.3L230.1 391.7L229.3 390.2L229.3 390.2L230.0 389.7L229.6 388.2L230.2 387.0L230.4 384.9L229.7 383.3L228.4 382.5L228.1 381.5L228.3 380.0L223.9 379.9L222.8 376.8L223.4 376.8L223.3 375.6L222.8 374.8L222.6 373.3L221.2 372.6L219.8 372.6L218.8 371.8L217.2 371.3L216.2 370.3L213.6 369.9L210.9 367.5L211.0 365.7L210.7 364.7L210.8 362.7L207.8 363.2L206.7 364.2L204.7 365.2L204.2 366.0L203.0 366.1L201.3 365.9L201.3 365.9L200.0 366.3L198.9 366.0L198.9 362.0L197.0 363.6L195.0 363.5L194.0 362.1L192.5 362.0L192.9 360.8L191.6 359.2L190.5 356.8L191.1 356.4L191.0 355.3L192.4 354.5L192.1 353.1L192.7 352.1L192.8 350.9L195.4 349.1L197.3 348.6L197.6 348.2L199.7 348.3L199.7 348.3L200.6 341.1L200.7 340.0L200.3 338.5L199.3 337.5L199.3 335.6L200.6 335.1L201.1 335.4L201.1 334.4L199.8 334.1L199.8 332.5L204.3 332.5L205.1 331.6L205.7 332.5L206.1 334.0L206.6 333.7L206.6 333.7L207.9 335.1L209.7 334.9L210.1 334.1L211.9 333.5L212.8 333.1L213.1 331.9L214.8 331.2L214.7 330.6L212.7 330.4L212.4 328.7L212.5 327.0L211.5 326.3L212.0 326.1L213.7 326.4L215.5 327.1L216.2 326.4L217.9 326.0L220.5 325.0L221.4 324.0L221.1 323.3L221.1 323.3L222.3 323.2L222.8 323.8L222.5 324.9L223.3 325.3L223.8 326.6L223.1 327.5L222.7 329.7L223.3 331.1L223.4 332.3L224.9 333.5L226.0 333.7L226.3 333.1L227.0 333.0L228.1 332.6L228.8 331.9L230.1 332.1L230.7 332.0L232.0 332.2L232.2 331.7L231.8 331.1L232.0 330.4L233.0 330.6L234.1 330.4L235.4 330.9L236.4 331.4L237.1 330.7L237.7 330.9L238.0 331.6L239.1 331.4L240.0 330.4L240.7 328.5L242.2 326.0Z"/>
<path fill="#fee391" d="M337.1 165.5L336.5 167.0L338.3 168.6L335.8 170.4L330.5 172.0L328.9 172.4L326.5 172.1L321.7 171.3L323.6 170.3L319.9 169.2L323.2 168.7L323.2 168.0L319.6 167.5L321.1 166.0L323.8 165.7L326.3 167.2L329.1 166.0L331.2 166.6L334.2 165.4Z"/>
<path fill="#fec44f" d="M408.9 155.0L414.5 156.6L412.5 157.2L414.7 158.6L412.1 159.4L410.8 159.7L411.1 158.1L408.7 157.2L406.3 158.0L405.9 159.6L404.5 160.6L402.5 160.0L400.4 160.2L398.2 159.0L397.3 159.6L397.3 159.6L396.3 159.6L396.3 161.1L393.0 160.8L392.8 162.0L391.1 162.0L390.2 163.6L388.8 166.2L386.5 169.4L387.2 170.2L386.7 171.1L384.9 171.1L383.9 173.3L384.3 176.4L385.6 177.7L385.3 180.5L383.9 182.1L383.1 183.5L381.8 182.0L378.2 184.9L375.8 185.4L373.1 184.2L372.3 181.6L371.5 176.0L373.1 174.5L377.8 172.5L381.1 170.1L384.1 166.9L387.7 162.5L390.4 160.8L394.6 158.0L398.1 157.0L400.9 157.1L403.0 155.3L406.0 155.4ZM399.5 141.2L396.4 142.0L393.6 141.5L394.5 141.0L393.4 140.4L396.4 140.0L397.2 140.7ZM388.9 137.7L394.1 139.1L390.6 139.8L390.1 141.2L388.9 141.6L388.5 143.3L386.7 143.3L383.2 142.1L384.4 141.4L382.1 140.9L378.9 139.2L377.6 137.8L381.5 137.2L382.4 137.8L384.4 137.8L384.9 137.2L387.0 137.1ZM399.0 136.5L402.0 137.1L400.2 138.0L396.1 138.3L391.7 138.0L391.3 137.5L389.2 137.4L387.4 136.6L391.7 136.1L393.9 136.6L395.2 136.0Z"/>
<path fill="#fec44f" d="M404.3 166.6L401.4 167.2L399.9 168.8L400.5 170.3L397.9 172.1L394.7 174.2L393.8 177.5L395.4 179.2L397.3 180.6L396.0 183.3L394.1 183.9L393.8 188.0L393.0 190.3L390.7 190.0L389.7 192.0L387.5 192.1L386.7 189.8L384.9 187.0L383.1 183.5L383.9 182.1L385.3 180.5L385.6 177.7L384.3 176.4L383.9 173.3L384.9 171.1L386.7 171.1L387.2 170.2L386.5 169.4L388.8 166.2L390.2 163.6L391.1 162.0L392.8 162.0L393.0 160.8L396.3 161.1L396.3 159.6L397.3 159.6L397.3 159.6L399.8 160.6L402.8 162.2L403.5 165.7L404.3 166.6Z"/>
<path fill="#fec44f" d="M410.8 159.7L411.0 161.2L413.9 162.7L412.8 164.4L415.4 167.0L414.7 169.0L416.7 170.8L416.4 172.3L419.4 173.9L419.0 175.1L417.7 176.5L414.4 179.5L411.1 179.7L408.0 180.6L405.0 181.1L403.7 179.8L401.8 179.0L401.8 176.6L400.6 174.5L401.2 173.1L402.6 171.7L406.2 169.1L407.3 168.6L406.9 167.7L404.3 166.6L403.5 165.7L402.8 162.2L399.8 160.6L397.3 159.6L397.3 159.6L398.2 159.0L400.4 160.2L402.5 160.0L404.5 160.6L405.9 159.6L406.3 158.0L408.7 157.2L411.1 158.1L410.8 159.7Z"/>
<path fill="#fec44f" d="M383.4 189.4L383.0 190.3L382.4 190.1L381.1 191.9L381.7 193.1L380.5 193.4L379.0 193.1L378.1 191.7L377.9 189.2L378.2 188.5L378.7 187.8L380.4 187.7L381.0 187.0L382.5 186.3L382.5 187.5L382.0 188.3L382.3 189.0ZM386.2 190.3L387.0 191.5L386.0 193.5L383.8 192.1L383.5 191.1Z"/>
<path fill="#fe9929" d="M356.7 184.0L354.7 186.7L356.6 186.4L358.7 186.4L358.1 188.4L356.4 190.6L358.4 190.8L360.2 194.0L361.6 194.4L362.8 197.2L363.3 198.2L365.7 198.7L365.5 200.3L364.5 201.0L365.3 202.4L363.5 203.7L360.8 203.7L357.4 204.4L356.4 203.9L355.1 205.1L353.2 204.8L351.8 205.7L350.7 205.2L353.8 202.6L355.6 202.0L352.4 201.6L351.9 200.6L354.0 199.8L353.0 198.4L353.4 196.8L356.3 197.0L356.6 195.6L355.3 194.0L353.0 193.5L352.5 192.9L353.3 191.8L352.6 191.1L351.6 192.3L351.5 189.8L350.6 188.6L351.4 186.1L353.0 184.1L354.5 184.3ZM351.3 194.1L350.2 195.8L348.8 195.3L347.6 195.4L348.0 194.0L347.7 192.7L349.3 192.6Z"/>
<path fill="#fec44f" d="M350.2 195.8L350.5 197.7L348.9 199.9L345.3 201.4L342.5 201.0L344.2 198.4L343.4 195.8L346.1 193.9L347.7 192.7L348.0 194.0L347.6 195.4L348.8 195.3Z"/>
<path fill="#fec44f" d="M353.0 209.0L355.7 208.4L359.1 209.1L358.5 206.2L360.4 207.3L365.1 205.3L365.7 203.2L367.4 202.7L367.7 203.6L368.7 203.7L369.6 204.7L371.1 205.9L372.1 205.7L373.9 206.8L374.4 207.1L375.0 207.0L375.9 207.7L378.9 208.1L377.9 209.9L377.7 211.7L377.2 212.2L376.3 211.9L376.3 212.6L374.9 214.0L374.9 215.2L375.9 214.8L376.6 215.9L376.5 216.7L377.2 217.7L376.5 218.4L377.1 220.5L378.2 220.8L378.1 221.9L376.2 223.4L372.0 222.7L368.9 223.5L368.7 225.1L366.3 225.4L363.9 224.2L363.1 224.8L359.2 223.6L358.4 222.6L359.5 221.0L359.9 215.9L357.8 213.2L356.3 211.9L353.2 210.9ZM382.7 225.9L382.1 227.9L381.1 227.4L380.5 225.6L380.9 224.7L382.2 223.7Z"/>
<path fill="#fec44f" d="M343.2 226.6L343.4 224.8L342.6 223.6L345.6 221.8L348.2 222.2L351.0 222.2L353.2 222.7L355.0 222.5L358.4 222.6L359.2 223.6L363.1 224.8L363.9 224.2L366.3 225.4L368.7 225.1L368.9 226.6L366.9 228.3L364.1 228.9L363.9 229.8L362.6 231.2L361.8 233.4L362.6 234.8L361.4 236.0L360.9 237.7L359.3 238.3L357.7 240.3L352.9 240.3L351.5 241.2L350.6 242.2L349.6 242.0L348.8 241.1L348.2 239.6L346.2 239.2L346.0 238.3L346.8 237.3L347.2 236.6L346.4 235.8L347.1 234.1L346.3 232.5L347.2 232.3L347.3 231.1L347.7 230.7L347.8 228.6L348.8 227.9L348.2 226.6L347.0 226.5L346.6 226.9L345.4 226.9L344.9 225.6L344.0 226.0L343.2 226.6Z"/>
<path fill="#fe9929" d="M343.2 226.6L344.0 226.0L344.9 225.6L345.4 226.9L346.6 226.9L347.0 226.5L348.2 226.6L348.8 227.9L347.8 228.6L347.7 230.7L347.3 231.1L347.2 232.3L346.3 232.5L347.1 234.1L346.4 235.8L347.2 236.6L346.8 237.3L346.0 238.3L346.2 239.2L345.3 239.8L344.1 239.5L343.0 239.8L343.4 237.7L343.3 236.1L342.3 235.8L341.8 234.8L342.0 233.1L342.9 232.2L343.1 231.1L343.6 229.6L343.6 228.5L343.3 227.5Z"/>
<path fill="#fec44f" d="M369.0 202.2L370.5 202.4L372.3 201.9L373.7 203.0L374.8 203.6L374.6 205.3L374.1 205.4L373.9 206.8L372.1 205.7L371.1 205.9L369.6 204.7L368.7 203.7L367.7 203.6L367.4 202.7Z"/>
<path fill="#fec44f" d="M374.4 196.7L376.0 196.8L376.4 197.7L376.0 200.0L375.5 200.9L374.3 200.9L374.8 203.6L373.7 203.0L372.3 201.9L370.5 202.4L369.0 202.2L370.1 201.5L371.7 197.8Z"/>
<path fill="#fec44f" d="M374.6 205.3L375.0 205.9L375.0 207.0L374.4 207.1L373.9 206.8L374.1 205.4Z"/>
<path fill="#fec44f" d="M381.7 193.1L381.8 194.0L383.8 194.6L383.9 195.5L385.8 195.0L386.9 194.3L389.2 195.3L390.2 196.1L390.7 197.4L390.2 198.1L391.0 199.0L391.7 200.3L391.6 201.2L392.5 202.8L391.7 203.1L391.1 202.8L390.6 203.3L389.2 203.8L388.5 204.4L387.1 204.9L387.5 205.7L387.8 206.8L388.9 207.4L390.1 208.5L389.5 209.7L388.8 210.0L389.2 211.7L389.0 212.1L388.3 211.6L387.3 211.5L385.9 212.0L384.1 211.9L383.8 212.6L382.7 211.8L382.1 212.0L379.9 211.2L379.5 211.8L377.7 211.7L377.9 209.9L378.9 208.1L375.9 207.7L375.0 207.0L375.0 205.9L374.6 205.3L374.8 203.6L374.3 200.9L375.5 200.9L376.0 200.0L376.4 197.7L376.0 196.8L376.4 196.3L378.0 196.1L378.4 196.7L379.7 195.5L379.2 194.5L379.0 193.1L380.5 193.4Z"/>
<path fill="#fec44f" d="M382.1 212.0L382.2 212.4L381.9 213.1L382.9 213.5L384.0 213.6L383.8 214.7L383.0 215.1L381.4 214.8L381.0 215.8L380.0 215.9L379.7 215.5L378.5 216.4L377.5 216.5L376.6 215.9L375.9 214.8L374.9 215.2L374.9 214.0L376.3 212.6L376.3 211.9L377.2 212.2L377.7 211.7L379.5 211.8L379.9 211.2Z"/>
<path fill="#ec7014" d="M397.2 210.4L397.1 211.5L396.0 211.5L396.4 212.0L395.8 213.7L395.5 214.2L393.7 214.2L392.7 214.8L391.0 214.6L388.0 213.9L387.4 213.0L385.4 213.5L385.2 214.0L384.0 213.6L382.9 213.5L381.9 213.1L382.2 212.4L382.1 212.0L382.7 211.8L383.8 212.6L384.1 211.9L385.9 212.0L387.3 211.5L388.3 211.6L389.0 212.1L389.2 211.7L388.8 210.0L389.5 209.7L390.1 208.5L391.7 209.3L392.7 208.3L393.4 208.1L395.1 208.9L396.0 208.7L397.0 209.2L396.9 209.5Z"/>
<path fill="#fe9929" d="M378.1 221.9L378.2 220.8L377.1 220.5L376.5 218.4L377.2 217.7L376.5 216.7L376.6 215.9L377.5 216.5L378.5 216.4L379.7 215.5L380.0 215.9L381.0 215.8L381.4 214.8L383.0 215.1L383.8 214.7L384.0 213.6L385.2 214.0L385.4 213.5L387.4 213.0L388.0 213.9L391.0 214.6L390.8 215.9L391.4 217.0L389.7 216.6L388.1 217.5L388.3 218.8L388.1 219.5L388.8 220.9L390.9 222.2L392.1 224.3L394.6 226.4L396.3 226.4L396.8 227.0L396.2 227.5L398.2 228.5L399.9 229.2L401.8 230.6L402.0 231.1L401.7 232.0L400.4 230.8L398.5 230.4L397.8 232.1L399.4 233.1L399.2 234.4L398.3 234.6L397.3 236.8L396.4 237.0L396.4 236.2L396.7 234.8L397.2 234.3L396.2 232.7L395.5 231.4L394.6 231.1L393.9 230.0L392.5 229.5L391.5 228.4L389.9 228.3L388.2 227.1L386.1 225.4L384.6 223.9L383.8 221.3L382.8 221.0L381.0 220.1L380.1 220.5L378.9 221.7ZM396.0 236.2L395.4 238.3L395.7 239.1L395.3 240.4L393.6 239.4L392.5 239.2L389.4 237.8L389.6 236.4L392.2 236.7L394.4 236.4ZM382.1 228.4L383.4 230.2L383.2 233.7L382.3 233.5L381.4 234.4L380.6 233.7L380.4 230.5L379.8 229.1L381.0 229.2Z"/>
<path fill="#ec7014" d="M391.0 214.6L392.7 214.8L393.7 214.2L395.5 214.2L395.8 213.7L396.2 213.7L396.7 214.6L395.1 215.3L395.0 216.4L394.2 216.6L394.3 217.3L393.5 217.3L392.8 216.9L392.4 217.3L391.0 217.2L391.4 217.0L390.8 215.9Z"/>
<path fill="#fe9929" d="M396.7 214.6L397.4 214.9L399.0 216.0L400.8 216.5L401.5 216.1L402.1 217.2L402.8 217.9L402.1 218.9L401.1 218.3L399.7 218.3L397.8 217.9L396.9 218.0L396.5 218.5L395.7 217.9L395.3 219.0L396.4 220.2L397.0 221.0L398.0 222.0L398.9 222.5L399.7 223.6L401.7 224.6L401.5 225.1L399.4 224.1L398.1 223.2L396.1 222.4L394.2 220.5L394.6 220.3L393.6 219.2L393.5 218.3L392.1 217.9L391.6 219.0L390.9 218.1L390.9 217.3L391.0 217.2L392.4 217.3L392.8 216.9L393.5 217.3L394.3 217.3L394.2 216.6L395.0 216.4L395.1 215.3Z"/>
<path fill="#fe9929" d="M402.1 218.9L402.9 218.9L402.5 220.0L403.6 221.0L403.4 222.2L402.9 222.3L402.5 222.6L401.9 223.2L401.7 224.6L399.7 223.6L398.9 222.5L398.0 222.0L397.0 221.0L396.4 220.2L395.3 219.0L395.7 217.9L396.5 218.5L396.9 218.0L397.8 217.9L399.7 218.3L401.1 218.3Z"/>
<path fill="#fe9929" d="M395.8 213.7L396.4 212.0L396.0 211.5L397.1 211.5L397.2 210.4L398.3 211.1L399.1 211.4L400.8 211.1L400.9 210.6L401.7 210.5L402.6 210.1L402.9 210.2L403.8 209.9L404.2 209.3L404.9 209.2L407.1 209.9L407.6 209.7L408.8 210.4L409.0 211.1L407.8 211.6L407.0 213.4L405.9 215.1L404.3 215.6L403.0 215.5L401.5 216.1L400.8 216.5L399.0 216.0L397.4 214.9L396.7 214.6L396.2 213.7Z"/>
<path fill="#ec7014" d="M400.7 206.9L400.8 207.1L401.6 206.7L402.7 207.6L403.9 207.1L404.8 207.3L406.3 207.0L408.3 208.0L407.8 208.6L407.6 209.7L407.1 209.9L404.9 209.2L404.2 209.3L403.8 209.9L402.9 210.2L402.6 210.1L401.7 210.5L400.9 210.6L400.8 211.1L399.1 211.4L398.3 211.1L397.2 210.4L396.9 209.5L397.0 209.2L397.3 208.7L398.2 208.7L398.8 208.4L398.9 208.2L399.2 208.1L399.3 207.5L399.8 207.4L400.0 206.9Z"/>
<path fill="#fe9929" d="M397.0 209.2L396.0 208.7L395.1 208.9L393.4 208.1L392.7 208.3L391.7 209.3L390.1 208.5L388.9 207.4L387.8 206.8L387.5 205.7L387.1 204.9L388.5 204.4L389.2 203.8L390.6 203.3L391.1 202.8L391.7 203.1L392.5 202.8L393.5 203.7L395.1 203.9L395.0 204.6L396.2 205.1L396.4 204.4L397.8 204.7L398.1 205.5L399.6 205.7L400.7 206.9L400.0 206.9L399.8 207.4L399.3 207.5L399.2 208.1L398.9 208.2L398.8 208.4L398.2 208.7L397.3 208.7Z"/>
<path fill="#8c2d04" d="M390.2 196.1L391.4 195.4L394.4 194.2L396.7 193.4L398.7 193.8L399.0 194.4L400.8 194.4L403.3 194.7L406.9 194.7L407.9 195.0L408.5 195.7L408.8 196.8L409.4 197.8L409.6 198.8L408.5 199.3L409.2 200.5L409.4 201.6L410.7 203.8L410.6 204.6L409.7 204.8L408.1 207.0L408.8 208.1L408.3 208.0L406.3 207.0L404.8 207.3L403.9 207.1L402.7 207.6L401.6 206.7L400.8 207.1L400.7 206.9L399.6 205.7L398.1 205.5L397.8 204.7L396.4 204.4L396.2 205.1L395.0 204.6L395.1 203.9L393.5 203.7L392.5 202.8L391.6 201.2L391.7 200.3L391.0 199.0L390.2 198.1L390.7 197.4Z"/>
<path fill="#ec7014" d="M406.9 194.7L406.6 194.1L406.7 193.4L405.8 193.0L403.7 192.6L403.0 190.5L405.1 189.7L408.4 189.9L410.2 189.6L410.6 190.1L411.6 190.3L413.7 191.5L414.1 192.6L412.6 193.4L412.4 194.8L410.4 195.7L408.5 195.7L407.9 195.0Z"/>
<path fill="#cc4c02" d="M406.9 194.7L403.3 194.7L400.8 194.4L401.1 193.3L403.7 192.6L405.8 193.0L406.7 193.4L406.6 194.1Z"/>
<path fill="#8c2d04" d="M403.0 190.5L402.8 188.6L403.5 187.1L405.2 186.2L407.0 188.0L408.5 188.0L408.6 186.1L410.1 185.7L411.0 186.0L412.8 186.9L414.4 186.9L415.4 187.5L415.8 188.7L416.7 190.1L414.8 191.1L413.7 191.5L411.6 190.3L410.6 190.1L410.2 189.6L408.4 189.9L405.1 189.7Z"/>
<path fill="#fe9929" d="M408.6 186.1L408.5 184.7L407.9 185.0L406.6 184.1L406.2 182.7L408.4 182.0L410.7 181.7L412.8 182.1L414.7 182.0L415.1 182.4L414.0 183.9L415.0 186.1L414.4 186.9L412.8 186.9L411.0 186.0L410.1 185.7Z"/>
<path fill="#8c2d04" d="M408.5 195.7L410.4 195.7L412.4 194.8L412.6 193.4L414.1 192.6L413.7 191.5L414.8 191.1L416.7 190.1L418.8 190.7L419.2 191.4L420.2 191.1L422.2 191.7L422.6 192.8L422.3 193.5L423.9 195.1L424.8 195.6L424.7 196.0L426.2 196.5L426.9 197.2L426.2 197.7L424.6 197.6L424.3 197.9L424.9 198.7L425.7 200.3L424.0 200.5L423.5 201.0L423.6 202.3L422.8 202.0L421.0 202.2L420.3 201.6L419.7 202.0L418.9 201.6L417.3 201.6L415.0 201.0L412.9 200.8L411.4 200.8L410.4 201.5L409.4 201.6L409.2 200.5L408.5 199.3L409.6 198.8L409.4 197.8L408.8 196.8Z"/>
<path fill="#8c2d04" d="M425.7 200.3L426.5 200.4L426.8 199.8L427.5 199.9L429.5 199.7L431.0 201.1L430.7 201.6L431.0 202.4L432.6 202.6L433.6 203.7L433.6 204.2L436.4 205.1L437.8 204.7L439.3 205.8L440.5 205.8L443.7 206.7L443.8 207.4L443.3 208.8L444.1 210.2L443.9 211.0L442.0 211.2L441.0 211.9L441.2 213.1L439.6 213.3L438.4 214.1L436.4 214.2L434.8 215.2L435.2 216.8L436.4 217.4L438.5 217.3L438.2 218.2L436.0 218.7L433.4 220.2L432.2 219.6L432.4 218.4L430.0 217.7L430.3 217.2L432.2 216.3L431.5 215.7L428.1 215.1L427.9 214.1L426.0 214.4L425.4 215.8L424.1 217.8L423.1 217.3L422.2 217.7L421.2 217.2L421.7 217.0L421.9 216.1L422.4 215.2L422.1 214.8L422.5 214.6L422.8 214.9L424.0 215.0L424.5 214.8L424.1 214.5L424.2 214.2L423.4 213.5L423.0 212.4L422.1 212.0L422.1 211.1L421.1 210.4L420.3 210.3L418.6 209.5L417.3 209.8L416.9 210.2L416.0 210.2L415.6 210.8L414.1 211.0L413.5 211.4L412.4 210.8L411.1 210.8L409.8 210.5L409.0 211.1L408.8 210.4L407.6 209.7L407.8 208.6L408.3 208.0L408.8 208.1L408.1 207.0L409.7 204.8L410.6 204.6L410.7 203.8L409.4 201.6L410.4 201.5L411.4 200.8L412.9 200.8L415.0 201.0L417.3 201.6L418.9 201.6L419.7 202.0L420.3 201.6L421.0 202.2L422.8 202.0L423.6 202.3L423.5 201.0L424.0 200.5Z"/>
<path fill="#cc4c02" d="M416.9 210.2L417.3 209.8L418.6 209.5L420.3 210.3L421.1 210.4L422.1 211.1L422.1 212.0L423.0 212.4L423.4 213.5L424.2 214.2L424.1 214.5L424.5 214.8L424.0 215.0L422.8 214.9L422.5 214.6L422.1 214.8L422.4 215.2L421.9 216.1L421.7 217.0L421.2 217.2L420.6 216.1L420.7 215.0L420.5 213.8L419.1 212.3L418.3 211.2L417.5 210.4Z"/>
<path fill="#cc4c02" d="M409.0 211.1L409.8 210.5L411.1 210.8L412.4 210.8L413.5 211.4L414.1 211.0L415.6 210.8L416.0 210.2L416.9 210.2L417.5 210.4L418.3 211.2L419.1 212.3L420.5 213.8L420.7 215.0L420.6 216.1L421.2 217.2L422.2 217.7L423.1 217.3L424.1 217.8L424.3 218.4L423.3 219.0L422.7 218.7L422.5 221.9L421.2 221.6L419.6 220.6L417.2 221.3L416.2 221.9L413.1 221.8L411.4 221.4L410.6 221.6L409.9 220.5L409.5 220.0L409.9 219.6L409.4 219.3L408.8 219.9L407.5 219.1L407.2 218.0L405.9 217.4L405.6 216.6L404.3 215.6L405.9 215.1L407.0 213.4L407.8 211.6Z"/>
<path fill="#ec7014" d="M409.9 220.5L410.6 221.6L411.4 221.4L413.1 221.8L416.2 221.9L417.2 221.3L419.6 220.6L421.2 221.6L422.5 221.9L421.5 222.9L421.0 224.8L421.9 226.3L420.0 225.9L417.9 226.8L418.1 228.1L416.2 228.3L414.6 227.4L412.9 228.1L411.3 228.0L411.0 226.3L409.9 225.5L410.2 225.1L409.9 224.8L410.2 224.0L410.9 223.2L409.8 222.0L409.5 221.1Z"/>
<path fill="#fe9929" d="M401.5 216.1L403.0 215.5L404.3 215.6L405.6 216.6L405.9 217.4L407.2 218.0L407.5 219.1L408.8 219.9L409.4 219.3L409.9 219.6L409.5 220.0L409.9 220.5L409.5 221.1L409.8 222.0L410.9 223.2L410.2 224.0L409.9 224.8L410.2 225.1L409.9 225.5L408.9 225.5L408.2 225.7L408.1 225.5L408.3 225.2L408.5 224.5L408.2 224.5L407.7 224.1L407.4 223.9L407.0 223.5L406.7 223.4L406.3 223.0L406.0 223.1L405.7 224.0L405.3 224.2L405.4 224.0L404.5 223.4L403.8 223.2L403.5 222.8L402.9 222.3L403.4 222.2L403.6 221.0L402.5 220.0L402.9 218.9L402.1 218.9L402.8 217.9L402.1 217.2Z"/>
<path fill="url(#h)" stroke="#c8c8c8" d="M406.2 226.7L405.9 225.7L405.4 225.5L404.9 224.8L405.3 224.2L405.7 224.0L406.0 223.1L406.3 223.0L406.7 223.4L407.0 223.5L407.4 223.9L407.7 224.1L408.2 224.5L408.5 224.5L408.3 225.2L408.1 225.5L408.2 225.7L407.7 225.8L406.5 226.2L406.5 226.7Z"/>
<path fill="#fe9929" d="M404.4 225.0L404.2 224.5L403.4 225.8L403.6 226.6L403.1 226.4L402.5 225.6L401.5 225.1L401.7 224.6L401.9 223.2L402.5 222.6L402.9 222.3L403.5 222.8L403.8 223.2L404.5 223.4L405.4 224.0L405.3 224.2L404.9 224.8Z"/>
<path fill="#fee391" d="M406.2 226.7L406.0 227.6L406.4 228.7L407.3 229.3L407.4 230.0L406.7 230.4L406.7 231.3L405.8 232.5L405.4 232.4L405.3 231.8L404.0 230.9L403.7 229.6L403.8 227.9L404.0 227.0L403.6 226.6L403.4 225.8L404.2 224.5L404.4 225.0L404.9 224.8L405.4 225.5L405.9 225.7Z"/>
<path fill="#fec44f" d="M406.2 226.7L406.5 226.7L406.5 226.2L407.7 225.8L408.2 225.7L408.9 225.5L409.9 225.5L411.0 226.3L411.3 228.0L410.9 228.1L410.6 228.6L409.5 228.5L408.7 229.1L407.3 229.3L406.4 228.7L406.0 227.6Z"/>
<path fill="#ec7014" d="M419.1 227.5L418.6 229.1L418.1 229.4L416.8 229.3L415.7 229.1L413.1 229.7L414.8 231.2L413.7 231.6L412.5 231.6L411.3 230.3L410.9 230.9L411.6 232.4L412.7 233.7L412.0 234.2L413.3 235.5L414.4 236.2L414.6 237.7L412.5 237.0L413.3 238.3L411.9 238.6L412.9 240.9L411.5 241.0L409.6 239.8L408.7 237.7L408.1 236.0L407.2 234.8L406.0 233.3L405.8 232.5L406.7 231.3L406.7 230.4L407.4 230.0L407.3 229.3L408.7 229.1L409.5 228.5L410.6 228.6L410.9 228.1L411.3 228.0L412.9 228.1L414.6 227.4L416.2 228.3L418.1 228.1L417.9 226.8ZM414.3 242.8L415.6 243.7L417.3 243.6L418.9 243.8L418.9 244.2L420.1 243.9L419.9 244.7L416.7 244.9L416.7 244.5L414.0 244.0Z"/>
<path fill="#ec7014" d="M417.9 226.8L420.0 225.9L421.9 226.3L422.3 227.3L424.2 228.1L423.9 228.8L421.4 228.9L420.6 229.7L419.0 231.2L418.1 229.9L418.1 229.4L418.6 229.1L419.1 227.5ZM441.1 228.0L444.3 229.1L446.8 228.7L448.6 228.9L450.9 227.5L453.2 227.4L455.5 228.7L456.0 229.6L456.0 230.9L457.7 231.5L458.7 232.3L457.4 233.0L458.6 236.1L458.3 236.9L459.8 239.0L458.9 239.4L458.0 238.7L455.4 238.4L454.5 238.8L452.1 239.2L450.9 239.2L448.6 240.2L446.8 240.2L445.6 239.7L443.3 240.4L442.5 239.9L442.6 241.4L442.1 241.9L441.5 242.5L440.6 241.3L441.3 240.3L440.0 240.6L438.1 239.9L436.8 241.5L433.5 241.8L431.5 240.4L429.2 240.3L428.8 241.4L427.3 241.7L425.1 240.3L422.7 240.3L421.1 237.7L419.4 236.2L420.2 234.2L418.7 233.0L420.9 230.4L424.1 230.3L424.8 228.4L428.9 228.7L431.2 227.0L433.6 226.3L437.1 226.2Z"/>
<path fill="#fec44f" d="M433.2 244.4L433.9 245.5L435.0 245.8L437.0 244.5L438.1 242.9L436.2 243.7L434.7 243.7L434.4 244.3Z"/>
<path fill="#cc4c02" d="M414.7 158.6L416.3 157.8L419.4 159.1L424.2 159.7L431.5 162.2L433.2 163.3L433.8 164.8L432.3 166.0L429.6 166.6L421.3 164.9L420.1 165.2L423.4 166.8L423.9 167.9L424.6 170.3L427.1 171.0L428.7 171.6L428.6 170.5L427.2 169.5L428.1 168.6L432.8 170.0L434.2 169.5L432.4 167.7L435.7 165.5L437.4 165.6L439.3 166.4L439.8 164.9L437.8 163.5L438.2 162.2L436.4 160.8L441.4 161.5L442.9 162.7L440.8 163.0L441.3 164.3L443.0 165.1L445.5 164.6L445.3 163.1L448.5 162.0L453.6 160.1L454.9 160.2L453.9 161.6L456.1 161.8L456.9 161.1L460.1 161.0L462.2 160.1L464.8 161.4L466.0 159.9L463.5 158.6L464.0 157.9L469.3 158.6L472.0 159.3L479.7 161.8L480.1 160.6L477.7 159.5L477.4 159.0L475.2 158.8L475.1 157.7L473.2 156.0L472.7 155.3L474.5 153.4L474.2 151.4L475.1 151.0L479.8 151.6L481.0 152.8L480.6 154.5L482.1 155.2L483.7 156.7L485.3 159.8L488.1 161.1L488.3 162.6L486.8 165.9L489.0 166.2L489.2 165.4L490.8 164.8L490.6 163.7L491.4 162.6L489.5 161.3L489.4 159.8L487.4 159.6L486.2 158.4L486.0 156.2L482.6 154.4L484.5 153.0L483.1 151.5L483.8 151.4L485.5 152.6L486.4 154.7L488.5 155.1L486.6 153.5L488.7 152.7L492.0 152.5L496.0 153.8L493.1 152.0L491.1 149.7L493.5 149.3L497.4 149.4L500.6 149.1L498.4 148.0L498.9 146.7L500.7 146.6L502.6 145.6L506.5 145.4L506.4 144.8L510.2 144.6L512.0 145.1L514.2 144.0L517.1 144.0L516.4 143.2L516.8 142.3L519.3 141.5L522.8 142.1L521.3 142.6L525.2 142.9L526.9 143.9L527.6 143.4L532.1 143.5L536.9 144.4L539.2 145.2L540.2 146.3L539.2 146.9L536.5 148.0L536.0 148.6L538.3 148.9L541.3 149.4L542.2 149.0L544.6 150.4L544.7 149.9L546.9 149.5L552.4 149.9L554.0 150.8L561.1 151.2L559.2 149.5L563.1 149.9L565.6 149.9L569.6 151.0L572.1 152.4L572.3 153.3L576.5 155.0L580.1 155.9L578.9 153.6L582.7 154.6L584.8 154.0L588.8 154.6L589.3 154.0L592.3 154.3L588.5 152.3L589.3 151.4L606.0 152.8L609.2 154.1L615.9 155.7L622.0 155.3L625.8 155.7L628.6 156.6L630.7 158.2L633.7 158.8L635.3 158.4L638.2 158.3L642.0 158.8L644.8 158.5L650.7 160.5L651.8 159.8L648.2 158.4L647.4 157.4L653.8 158.0L657.0 157.9L663.6 158.9L667.5 159.9L681.1 168.9L680.3 170.0L677.7 169.8L681.1 171.0L684.9 173.0L686.6 173.6L688.1 174.6L688.5 175.2L684.4 174.7L681.7 176.5L680.5 176.8L679.8 178.5L679.0 179.9L679.7 181.0L675.0 179.4L672.4 181.3L670.5 180.4L670.0 181.4L667.1 181.1L668.4 182.7L668.8 185.0L670.0 186.0L672.8 186.5L676.5 190.1L674.9 190.2L676.2 192.3L678.2 193.4L676.1 194.7L678.3 197.5L676.0 198.1L677.9 200.7L677.2 203.1L674.8 201.3L670.5 197.6L663.8 192.1L661.2 188.6L661.2 187.2L660.1 186.0L662.4 185.5L662.3 182.4L662.6 179.9L663.6 178.0L660.9 174.6L659.0 174.8L660.3 176.8L658.8 179.5L653.8 176.5L650.0 177.3L650.0 181.3L653.2 182.8L649.7 183.5L647.1 183.7L645.3 182.0L642.0 181.6L641.0 182.8L634.8 182.3L629.4 183.1L627.9 187.8L625.9 193.7L629.2 194.0L631.6 195.6L633.9 196.1L634.1 194.9L636.4 195.0L641.7 197.8L643.6 199.9L644.2 202.5L646.4 205.5L648.6 209.6L648.2 213.3L648.7 215.1L647.9 218.1L647.1 221.1L646.7 222.7L644.8 224.2L643.5 224.2L641.4 223.0L639.8 224.9L639.9 225.7L639.4 225.3L638.6 224.0L639.6 223.9L638.0 220.8L636.1 218.6L637.3 217.7L640.1 218.1L639.8 215.6L638.7 212.8L638.8 211.8L638.3 209.5L635.4 210.3L634.4 211.3L631.3 211.3L628.8 208.9L625.1 207.1L621.0 206.2L618.4 203.8L616.6 202.2L615.0 201.1L611.9 198.6L609.4 197.6L605.8 196.9L603.3 197.0L601.2 197.4L600.5 198.7L602.0 199.2L603.1 200.7L602.5 201.5L602.6 204.2L603.4 205.3L601.6 206.9L598.5 205.9L596.3 206.1L594.6 205.3L593.3 205.0L591.4 206.8L589.0 207.2L587.5 207.9L584.7 207.4L582.9 207.5L580.9 206.2L578.1 204.9L575.9 204.6L573.5 204.9L571.9 205.4L568.4 204.3L566.9 202.4L564.2 201.8L562.2 201.5L559.3 200.4L558.8 203.1L560.4 204.6L559.5 206.3L556.2 205.7L554.1 205.6L552.1 204.4L550.0 204.4L547.8 203.6L545.4 204.8L542.7 207.0L540.7 207.4L540.0 207.7L538.2 206.1L535.8 206.4L534.4 205.3L532.7 204.8L531.1 203.4L529.7 202.9L527.2 203.6L523.7 202.1L523.3 203.4L515.7 197.0L512.3 195.1L512.6 194.3L508.8 196.6L507.0 196.8L506.5 195.4L503.6 194.6L501.9 195.2L500.1 192.6L496.3 192.1L495.1 193.1L490.6 194.0L489.9 194.6L482.9 195.5L482.3 196.4L484.4 198.1L482.8 198.7L483.4 199.4L481.9 200.7L485.8 202.4L485.7 203.6L482.9 203.5L482.5 204.2L479.5 202.9L476.4 203.0L474.6 204.1L471.9 203.0L466.9 201.3L463.8 201.3L460.5 204.1L460.7 206.0L458.2 204.5L457.4 207.3L458.1 207.8L457.4 209.8L459.6 211.5L461.1 211.4L462.8 213.1L462.9 214.5L464.1 214.9L463.5 216.4L461.6 216.8L460.1 219.5L462.6 222.0L462.7 223.7L465.7 226.8L464.7 227.9L464.5 228.5L463.5 228.4L461.7 226.8L461.1 226.7L459.6 226.1L458.7 225.0L456.7 224.5L455.5 224.9L455.0 224.4L451.8 223.1L448.7 222.7L446.8 222.3L446.6 222.6L443.5 220.4L440.9 219.4L438.9 217.9L440.3 217.5L441.6 215.3L440.3 214.3L443.1 213.2L443.0 212.7L441.2 213.1L441.0 211.9L442.0 211.2L443.9 211.0L444.1 210.2L443.3 208.8L443.8 207.4L443.7 206.7L440.5 205.8L439.3 205.8L437.8 204.7L436.4 205.1L433.6 204.2L433.6 203.7L432.6 202.6L431.0 202.4L430.7 201.6L431.0 201.1L429.5 199.7L427.5 199.9L426.8 199.8L426.5 200.4L425.7 200.3L425.7 200.3L424.9 198.7L424.3 197.9L424.6 197.6L426.2 197.7L426.9 197.2L426.2 196.5L424.7 196.0L424.8 195.6L423.9 195.1L422.3 193.5L422.6 192.8L422.2 191.7L420.2 191.1L419.2 191.4L418.8 190.7L416.7 190.1L415.8 188.7L415.4 187.5L414.4 186.9L415.0 186.1L414.0 183.9L415.1 182.4L414.7 182.0L416.6 180.7L414.4 179.5L417.7 176.5L419.0 175.1L419.4 173.9L416.4 172.3L416.7 170.8L414.7 169.0L415.4 167.0L412.8 164.4L413.9 162.7L411.0 161.2L410.8 159.7L412.1 159.4ZM43.7 168.9L57.3 159.9L58.8 161.6L60.0 163.8L57.8 165.3L58.2 165.8L60.1 164.2L64.3 164.5L64.8 166.6L61.6 167.7L58.4 167.9L55.2 170.2L53.8 170.6L52.3 170.6L52.0 169.8L50.6 169.1L51.7 168.1L50.4 167.7L48.0 168.0L48.2 167.2L49.8 166.3L46.9 166.9L46.1 168.0ZM466.2 143.0L467.9 143.8L467.4 144.4L462.7 145.4L458.6 146.4L455.0 148.3L453.9 150.4L452.5 152.4L453.8 154.2L457.9 156.0L457.0 156.2L451.5 155.9L450.5 154.9L447.3 154.4L446.4 153.2L447.9 152.7L447.2 151.6L449.4 149.8L447.8 149.5L450.5 147.7L449.6 146.8L452.4 145.7L456.6 144.4L461.4 144.0L463.4 143.3ZM498.4 135.0L502.4 135.9L508.0 137.6L509.8 139.2L506.8 139.4L502.1 138.9L498.7 138.2L496.1 136.9L493.7 136.6L495.9 135.4ZM518.8 140.3L511.4 141.1L510.9 138.6L511.8 138.4L513.0 138.5L518.2 139.5ZM576.5 144.6L580.7 144.7L588.1 145.8L589.3 147.3L583.4 147.2L581.6 147.7L576.4 146.4L575.0 145.0ZM590.3 145.9L593.7 146.2L598.6 146.8L598.1 147.6L595.3 147.4L591.0 146.6ZM588.8 149.3L592.3 150.1L593.3 150.7L590.9 150.7L587.2 150.4L586.8 150.3L587.1 149.5ZM660.8 155.8L659.1 155.9L657.7 155.2L658.2 154.3ZM66.6 154.3L64.0 155.8L66.5 155.6L69.4 155.0L68.3 154.2ZM651.3 203.7L657.0 208.2L653.3 207.4L654.9 211.1L658.8 213.7L660.0 215.6L657.3 214.0L657.4 216.0L655.5 213.8L653.9 211.3L651.6 208.5L650.6 206.6L648.0 203.2L644.7 200.7L641.9 197.3L642.7 196.1L640.8 194.9L641.4 194.6L643.4 196.3L646.2 198.7L648.4 201.2ZM433.7 135.6L436.1 136.0L432.8 136.7L431.3 137.2L429.4 136.8L429.9 136.2L426.7 136.2L429.3 135.9L431.4 135.8L432.0 136.3L432.6 135.9Z"/>
<path fill="#8c2d04" d="M450.9 227.5L451.0 226.4L450.1 224.6L448.8 223.7L447.5 223.4L446.6 222.6L446.6 222.6L446.8 222.3L448.7 222.7L451.8 223.1L455.0 224.4L455.5 224.9L456.7 224.5L458.7 225.0L459.6 226.1L461.1 226.7L460.6 227.0L461.9 228.5L461.7 228.8L460.5 228.6L458.8 227.9L458.3 228.3L455.5 228.7L453.2 227.4Z"/>
<path fill="#ec7014" d="M455.5 228.7L458.3 228.3L458.9 229.0L459.8 229.4L459.5 230.1L460.8 231.0L460.4 231.8L461.4 232.5L462.5 233.0L462.9 234.8L462.1 234.8L461.0 233.3L460.9 232.9L459.9 232.9L459.2 232.2L458.7 232.3L457.7 231.5L456.0 230.9L456.0 229.6Z"/>
<path fill="#fec44f" d="M461.1 226.7L461.7 226.8L463.5 228.4L464.5 228.5L464.7 227.9L465.7 226.8L467.2 228.2L468.6 230.1L469.6 230.2L470.5 230.9L468.7 231.1L468.8 233.1L468.6 234.0L467.9 234.6L468.2 236.0L467.7 236.1L466.1 234.7L466.6 233.4L465.8 232.6L465.1 232.8L462.9 234.8L462.5 233.0L461.4 232.5L460.4 231.8L460.8 231.0L459.5 230.1L459.8 229.4L458.9 229.0L458.3 228.3L458.8 227.9L460.5 228.6L461.7 228.8L461.9 228.5L460.6 227.0ZM459.2 232.2L459.9 232.9L460.9 232.9L461.0 233.3L462.1 234.8L460.6 234.5L459.2 233.3L458.7 232.3Z"/>
<path fill="#ec7014" d="M464.1 214.9L462.9 214.5L462.8 213.1L461.1 211.4L459.6 211.5L457.4 209.8L458.1 207.8L457.4 207.3L458.2 204.5L460.7 206.0L460.5 204.1L463.8 201.3L466.9 201.3L471.9 203.0L474.6 204.1L476.4 203.0L479.5 202.9L482.5 204.2L482.9 203.5L485.7 203.6L485.8 202.4L481.9 200.7L483.4 199.4L482.8 198.7L484.4 198.1L482.3 196.4L482.9 195.5L489.9 194.6L490.6 194.0L495.1 193.1L496.3 192.1L500.1 192.6L501.9 195.2L503.6 194.6L506.5 195.4L507.0 196.8L508.8 196.6L512.6 194.3L512.3 195.1L515.7 197.0L523.3 203.4L523.7 202.1L527.2 203.6L529.7 202.9L531.1 203.4L532.7 204.8L534.4 205.3L535.8 206.4L538.2 206.1L540.0 207.7L540.0 207.7L539.3 209.3L537.7 209.6L538.7 212.2L538.1 213.3L533.6 212.5L534.0 217.1L533.2 217.7L529.5 218.7L533.1 223.2L531.9 223.9L532.6 225.4L531.1 225.0L529.7 224.1L526.5 223.8L523.0 223.7L522.3 224.0L518.9 222.9L517.9 223.5L518.1 225.0L514.3 224.1L513.1 224.5L512.9 225.6L511.9 226.1L509.7 227.9L509.3 229.8L508.5 229.8L507.5 228.6L504.8 228.5L503.7 226.3L502.7 226.3L502.1 223.7L498.9 221.8L495.4 222.0L493.0 222.4L490.4 220.0L488.4 219.1L484.6 217.2L484.1 217.0L479.2 218.5L481.8 228.1L480.7 228.2L478.7 226.2L477.1 225.5L474.8 226.0L474.1 226.9L473.8 226.2L474.1 225.2L473.5 224.3L470.8 223.4L469.3 221.0L468.0 220.4L467.7 219.5L469.8 219.8L469.4 217.9L471.1 217.4L473.0 217.8L472.7 215.3L471.9 213.7L469.9 213.8L468.0 213.2L465.9 214.3Z"/>
<path fill="#fee391" d="M481.8 228.1L479.2 218.5L484.1 217.0L484.6 217.2L488.4 219.1L490.4 220.0L493.0 222.4L495.4 222.0L498.9 221.8L502.1 223.7L502.7 226.3L503.7 226.3L504.8 228.5L507.5 228.6L508.5 229.8L509.3 229.8L509.7 227.9L511.9 226.1L512.9 225.6L513.7 225.9L512.4 227.6L514.3 228.6L515.6 227.9L518.6 229.3L516.4 231.2L514.7 230.9L513.8 231.0L513.3 230.2L513.4 229.0L510.7 229.6L510.5 231.3L509.9 232.8L508.1 232.6L507.8 233.8L509.6 234.4L510.6 236.4L510.0 239.1L508.3 238.5L507.0 238.5L506.7 236.9L503.5 235.7L500.9 234.5L499.2 233.2L496.3 231.4L494.5 228.7L493.7 228.2L491.4 228.4L490.5 227.8L489.7 225.7L486.4 224.4L485.1 225.9L483.5 226.8L484.2 228.1L481.8 228.1Z"/>
<path fill="#fe9929" d="M474.1 226.9L474.8 226.0L477.1 225.5L478.7 226.2L480.7 228.2L481.8 228.1L481.8 228.1L484.2 228.1L483.5 226.8L485.1 225.9L486.4 224.4L489.7 225.7L490.5 227.8L491.4 228.4L493.7 228.2L494.5 228.7L496.3 231.4L499.2 233.2L500.9 234.5L503.5 235.7L506.7 236.9L507.0 238.5L506.4 238.4L505.2 237.7L505.1 238.6L503.4 239.1L503.4 241.2L502.3 242.0L500.7 242.4L500.5 243.6L498.9 244.0L496.5 243.0L495.8 240.8L494.2 240.7L491.2 238.3L489.4 238.1L486.7 236.7L485.1 236.5L484.2 236.9L482.8 236.9L481.5 238.4L479.7 238.9L479.0 237.0L478.7 234.3L476.8 233.4L477.0 231.6L475.5 231.5L475.5 229.2L477.7 229.9L479.4 229.1L477.4 227.5L476.5 226.0L474.9 226.7L475.1 228.6Z"/>
<path fill="#fe9929" d="M512.9 225.6L513.1 224.5L514.3 224.1L518.1 225.0L517.9 223.5L518.9 222.9L522.3 224.0L523.0 223.7L526.5 223.8L529.7 224.1L531.1 225.0L531.1 225.0L532.6 225.4L532.5 226.0L529.7 227.4L529.3 228.4L526.6 228.7L526.4 230.4L524.0 230.1L522.7 230.6L521.0 231.8L521.5 232.4L521.1 233.0L517.1 233.4L514.2 232.6L511.9 232.8L511.7 231.3L514.2 231.7L514.7 230.9L514.7 230.9L516.4 231.2L518.6 229.3L515.6 227.9L514.3 228.6L512.4 227.6L513.7 225.9L512.9 225.6Z"/>
<path fill="#fec44f" d="M514.7 230.9L514.2 231.7L511.7 231.3L511.9 232.8L514.2 232.6L517.1 233.4L521.1 233.0L522.3 235.5L522.9 235.2L524.4 235.8L524.6 236.8L525.4 238.3L523.2 238.3L521.6 238.1L520.6 239.3L519.7 239.6L519.0 240.1L518.0 239.2L517.6 237.0L516.9 236.9L516.9 236.1L515.6 235.5L514.9 236.4L514.9 237.5L514.7 237.9L513.4 237.8L513.0 239.0L512.1 238.5L510.8 239.4L510.0 239.1L510.0 239.1L510.6 236.4L509.6 234.4L507.8 233.8L508.1 232.6L509.9 232.8L510.5 231.3L510.7 229.6L513.4 229.0L513.3 230.2L513.8 231.0L513.8 231.0Z"/>
<path fill="#fee391" d="M496.5 243.0L498.9 244.0L500.5 243.6L500.7 242.4L502.3 242.0L503.4 241.2L503.4 239.1L505.1 238.6L505.2 237.7L506.4 238.4L507.0 238.5L508.3 238.5L510.0 239.1L510.0 239.1L510.8 239.4L512.1 238.5L513.0 239.0L513.4 237.8L514.7 237.9L514.9 237.5L514.9 236.4L515.6 235.5L516.9 236.1L516.9 236.9L517.6 237.0L518.0 239.2L519.0 240.1L519.7 239.6L520.6 239.3L521.6 238.1L523.2 238.3L525.4 238.3L526.0 239.1L524.8 239.4L523.8 239.8L521.4 240.2L519.2 240.7L518.2 241.9L519.0 243.0L519.6 244.3L518.8 245.4L519.1 246.4L518.7 247.3L516.6 247.3L517.9 249.0L516.6 249.7L516.0 251.3L516.5 252.9L515.8 253.6L514.9 253.4L513.2 253.7L513.1 254.4L511.5 254.4L510.5 255.9L510.9 258.2L508.1 259.3L506.5 259.0L506.2 259.6L504.8 259.3L502.6 259.7L498.6 258.3L500.3 255.9L499.8 254.2L498.0 253.8L497.5 252.1L496.4 250.0L497.1 248.6L496.1 248.2L496.3 246.3L496.5 243.0Z"/>
<path fill="#fec44f" d="M526.0 239.1L527.9 240.3L529.1 242.3L533.0 243.4L531.5 245.6L529.1 246.0L525.6 245.3L524.8 246.5L526.2 248.8L527.4 250.6L529.5 251.9L527.9 253.4L528.3 255.3L526.7 257.9L525.8 260.6L523.9 263.4L521.3 263.2L519.2 265.9L520.9 267.1L521.5 269.2L522.9 270.5L523.7 272.8L518.7 272.8L517.4 274.5L515.6 273.9L514.8 272.0L512.7 269.9L508.6 270.4L505.0 270.5L501.8 270.9L502.3 267.8L505.3 266.4L505.0 265.2L503.9 264.8L503.4 262.5L501.1 261.3L500.0 259.7L498.6 258.3L498.6 258.3L502.6 259.7L504.8 259.3L506.2 259.6L506.5 259.0L508.1 259.3L510.9 258.2L510.5 255.9L511.5 254.4L513.1 254.4L513.2 253.7L514.9 253.4L515.8 253.6L516.5 252.9L516.0 251.3L516.6 249.7L517.9 249.0L516.6 247.3L518.7 247.3L519.1 246.4L518.8 245.4L519.6 244.3L519.0 243.0L518.2 241.9L519.2 240.7L521.4 240.2L523.8 239.8L524.8 239.4L526.0 239.1Z"/>
<path fill="#fee391" d="M533.0 243.4L536.2 246.5L536.5 248.6L537.8 250.0L538.0 251.3L536.3 251.0L537.6 253.9L540.2 255.6L543.7 257.4L543.7 257.4L542.6 258.6L542.2 261.1L544.6 262.0L546.9 263.3L550.2 264.8L553.3 265.2L554.9 266.5L556.7 266.8L559.5 267.4L561.4 267.3L561.4 266.3L560.8 264.6L560.7 263.5L562.0 262.9L562.6 265.0L562.8 265.5L565.0 266.5L566.3 266.1L568.3 266.3L570.1 266.2L569.9 264.6L568.9 263.8L570.6 263.4L572.2 261.5L574.4 259.8L576.4 260.4L577.8 259.3L579.2 261.0L578.7 262.1L581.2 262.5L581.6 263.5L580.9 263.9L581.5 265.6L579.8 265.1L577.2 266.9L577.6 268.4L576.8 270.6L576.9 271.9L576.3 274.1L574.4 273.5L574.8 276.2L574.4 277.1L574.8 278.2L573.7 278.9L571.9 274.7L571.3 274.7L571.2 276.4L569.7 275.0L570.2 273.5L571.2 273.4L571.8 271.1L570.4 270.7L568.3 270.7L566.1 270.4L565.6 268.5L564.5 268.4L562.5 267.2L562.0 269.0L563.9 270.4L562.7 271.4L562.3 272.4L563.8 273.1L563.7 274.7L564.8 276.7L565.4 278.8L565.2 279.8L563.7 279.8L560.9 280.3L561.3 282.3L560.3 283.9L557.2 285.6L555.1 288.7L553.5 290.4L551.4 292.1L551.6 293.3L550.5 294.0L548.5 294.9L547.4 295.1L547.0 297.1L547.7 300.5L548.1 302.7L547.3 305.2L547.6 309.7L546.4 309.8L545.4 311.8L546.2 312.7L544.1 313.4L543.4 315.2L542.5 316.0L540.2 313.5L538.9 309.8L537.9 307.2L537.0 305.9L535.6 303.4L534.7 300.1L534.2 298.4L531.8 294.8L530.3 289.7L529.3 286.3L528.9 283.1L528.2 280.7L525.1 282.2L523.4 281.9L520.1 278.7L521.1 277.8L520.3 276.8L517.4 274.5L518.7 272.8L523.7 272.8L522.9 270.5L521.5 269.2L520.9 267.1L519.2 265.9L521.3 263.2L523.9 263.4L525.8 260.6L526.7 257.9L528.3 255.3L527.9 253.4L529.5 251.9L527.4 250.6L526.2 248.8L524.8 246.5L525.6 245.3L529.1 246.0L531.5 245.6L533.0 243.4Z"/>
<path fill="#fec44f" d="M560.7 263.5L560.8 264.6L561.4 266.3L561.4 267.3L559.5 267.4L556.7 266.8L554.9 266.5L553.3 265.2L550.2 264.8L546.9 263.3L544.6 262.0L542.2 261.1L542.6 258.6L543.7 257.4L543.7 257.4L544.5 256.8L546.5 257.6L549.1 259.3L550.5 259.7L551.5 260.9L553.3 261.5L555.4 262.6L558.1 263.2L560.7 263.5Z"/>
<path fill="#fee391" d="M568.9 263.8L569.9 264.6L570.1 266.2L568.3 266.3L566.3 266.1L565.0 266.5L562.8 265.5L562.6 265.0L562.6 265.0L563.7 263.0L564.8 262.4L566.5 263.0L567.7 263.0L568.9 263.8Z"/>
<path fill="#fec44f" d="M573.7 278.9L574.0 280.8L573.1 280.3L573.5 282.5L572.7 281.1L572.4 279.8L571.8 278.5L570.6 276.9L568.5 276.8L568.9 277.9L568.3 279.4L567.3 278.9L567.0 279.3L566.3 279.1L565.4 278.8L565.4 278.8L564.8 276.7L563.7 274.7L563.8 273.1L562.3 272.4L562.7 271.4L563.9 270.4L562.0 269.0L562.5 267.2L564.5 268.4L565.6 268.5L566.1 270.4L568.3 270.7L570.4 270.7L571.8 271.1L571.2 273.4L570.2 273.5L569.7 275.0L571.2 276.4L571.3 274.7L571.9 274.7Z"/>
<path fill="#ec7014" d="M552.4 317.2L552.2 319.9L551.3 320.6L549.3 321.3L548.1 319.2L547.5 315.4L548.3 311.1L550.0 312.6L551.2 314.4Z"/>
<path fill="#ec7014" d="M590.1 283.7L589.0 284.9L587.4 285.0L586.7 287.9L585.8 288.3L587.3 290.7L589.0 292.6L590.2 294.3L589.6 296.6L588.9 297.1L589.6 298.4L591.3 300.5L591.7 302.0L591.8 303.2L593.0 305.6L591.9 308.1L591.0 310.8L590.6 308.8L591.1 306.8L590.2 305.3L590.2 302.4L589.1 301.0L588.0 297.9L587.2 294.5L585.9 292.3L584.6 293.7L582.2 295.6L580.9 295.3L579.4 294.7L579.7 291.4L578.9 289.0L576.7 285.9L576.8 285.0L575.5 284.6L573.5 282.5L573.1 280.3L574.0 280.8L573.7 278.9L574.8 278.2L574.4 277.1L574.8 276.2L574.4 273.5L576.3 274.1L576.9 271.9L576.8 270.6L577.6 268.4L577.2 266.9L579.8 265.1L581.5 265.6L580.9 263.9L581.6 263.5L581.2 262.5L582.5 262.3L583.6 263.8L584.7 264.4L585.2 266.5L585.6 268.6L583.9 270.9L584.2 274.0L586.5 273.5L587.5 276.0L589.0 276.5L588.7 278.7L590.5 279.7L591.6 280.1L593.1 279.4L593.4 280.5L591.7 282.2L591.4 283.1Z"/>
<path fill="#cc4c02" d="M603.1 299.0L600.2 299.5L599.0 301.7L599.8 304.8L597.6 303.6L595.7 303.7L595.8 301.6L593.8 301.6L593.9 304.5L592.9 308.4L592.4 310.7L592.7 312.6L594.2 312.7L595.3 315.1L595.8 317.4L597.2 318.9L598.6 319.2L599.9 320.6L599.2 321.7L597.7 322.0L597.4 320.6L595.5 319.5L595.1 320.0L594.1 318.9L593.7 317.6L592.4 316.1L591.1 314.9L590.9 316.5L590.3 315.0L590.5 313.3L591.0 310.8L591.9 308.1L593.0 305.6L591.8 303.2L591.7 302.0L591.3 300.5L589.6 298.4L588.9 297.1L589.6 296.6L590.2 294.3L589.0 292.6L587.3 290.7L585.8 288.3L586.7 287.9L587.4 285.0L589.0 284.9L590.1 283.7L591.4 283.1L592.5 284.0L592.8 285.5L594.4 285.7L594.3 288.4L594.6 290.8L596.8 289.2L597.6 289.7L598.9 289.6L599.3 288.7L601.0 288.9L603.1 291.0L603.6 293.6L605.8 295.9L605.9 298.2L605.3 299.4Z"/>
<path fill="#fec44f" d="M605.3 299.4L605.9 298.2L605.8 295.9L603.6 293.6L603.1 291.0L601.0 288.9L599.3 288.7L598.9 289.6L597.6 289.7L596.8 289.2L594.6 290.8L594.3 288.4L594.4 285.7L592.8 285.5L592.5 284.0L591.4 283.1L591.4 283.1L591.7 282.2L593.4 280.5L593.1 279.4L593.7 281.1L594.9 281.2L594.1 278.1L595.2 277.8L596.9 279.8L598.3 282.2L601.1 282.2L602.3 284.5L601.0 285.3L600.5 286.2L603.4 287.8L605.8 290.9L607.6 293.2L609.6 295.0L610.4 296.9L610.3 299.5L608.2 298.6L607.4 300.4L605.3 299.4Z"/>
<path fill="#fec44f" d="M602.3 309.0L601.2 307.6L599.8 304.8L599.0 301.7L600.2 299.5L603.1 299.0L605.3 299.4L607.4 300.4L608.2 298.6L610.3 299.5L611.1 301.3L611.1 304.5L607.4 306.5L608.6 308.1L606.2 308.3L604.3 309.3Z"/>
<path fill="#fec44f" d="M609.0 280.2L606.3 282.4L604.8 284.9L604.6 286.7L606.8 289.5L609.4 293.0L611.8 294.6L613.5 296.7L615.1 301.6L615.3 306.2L613.5 308.0L611.0 309.7L609.3 311.9L606.6 314.3L605.6 312.6L606.1 310.8L604.3 309.3L606.2 308.3L608.6 308.1L607.4 306.5L611.1 304.5L611.1 301.3L610.3 299.5L610.3 299.5L610.4 296.9L609.6 295.0L607.6 293.2L605.8 290.9L603.4 287.8L600.5 286.2L601.0 285.3L602.3 284.5L601.1 282.2L598.3 282.2L596.9 279.8L595.2 277.8L596.3 277.1L598.1 277.1L600.3 276.8L602.0 275.4L603.3 276.4L605.5 276.9L605.3 278.4L606.6 279.5L609.0 280.2Z"/>
<path fill="#ec7014" d="M595.1 320.0L595.5 319.5L597.4 320.6L597.7 322.0L599.2 321.7L599.9 320.6L600.5 320.8L601.9 322.4L603.0 324.2L603.2 326.0L603.0 327.2L603.2 328.1L603.4 329.6L604.3 330.4L605.3 332.7L605.2 333.6L603.6 333.8L601.3 331.8L598.5 329.7L598.2 328.4L596.8 326.6L596.4 324.4L595.5 323.0L595.7 321.1ZM638.5 325.2L636.8 326.1L634.8 325.6L632.1 325.6L631.4 328.6L630.5 329.6L629.4 333.2L627.5 333.8L625.3 333.0L624.2 333.3L622.9 334.6L621.4 334.4L619.9 335.0L618.3 333.5L617.8 331.7L619.6 332.6L621.4 332.1L621.8 329.9L622.8 329.4L625.5 328.8L627.1 326.7L628.2 325.1L629.1 324.1L631.0 322.6L632.7 320.8L633.7 318.7L634.7 318.7L635.9 320.1L636.1 321.2L637.7 321.9L639.6 322.7L639.5 323.8L638.0 323.9Z"/>
<path fill="#8c2d04" d="M628.2 325.1L629.1 324.1L631.0 322.6L630.9 323.9L630.9 325.6L629.8 325.5L629.3 326.4Z"/>
<path fill="#fee391" d="M584.1 322.5L589.2 323.2L591.4 325.7L593.2 327.5L594.5 328.6L596.8 331.5L599.2 331.5L601.2 333.3L602.6 335.5L604.3 336.7L603.4 338.9L604.7 339.8L605.6 339.8L605.9 341.7L606.7 343.2L608.4 343.4L609.5 345.1L608.8 348.4L608.5 352.4L605.9 352.5L604.1 350.3L601.2 348.1L600.2 346.5L598.5 344.4L597.4 342.4L595.7 338.7L593.7 336.5L593.0 334.3L592.1 332.2L590.0 330.5L588.7 328.3L586.9 326.8L584.3 323.9ZM614.9 354.9L619.3 355.1L619.9 354.1L624.1 355.3L624.9 357.0L628.4 357.5L631.1 359.1L628.4 360.1L625.9 359.0L623.8 359.1L621.4 358.9L619.3 358.4L616.6 357.4L614.9 357.2L614.0 357.5L609.8 356.4L609.4 355.3L607.3 355.1L609.0 352.6L611.9 352.7L613.7 353.7L614.6 353.9ZM636.8 326.1L634.8 325.6L632.1 325.6L631.4 328.6L630.5 329.6L629.4 333.2L627.5 333.8L625.3 333.0L624.2 333.3L622.9 334.6L621.4 334.4L619.9 335.0L618.3 333.5L617.8 331.7L616.5 333.5L616.3 335.9L616.6 338.2L617.7 340.5L618.8 341.2L619.1 344.7L621.0 345.0L622.5 344.9L623.3 346.2L626.1 345.2L627.3 346.1L628.9 346.2L629.8 347.8L632.5 346.7L632.8 347.6L633.8 343.5L633.9 340.9L636.2 339.1L636.1 336.7L636.9 334.9L639.6 334.6L637.0 332.2L637.4 331.0L635.6 328.5ZM654.2 333.3L652.3 335.9L650.6 336.4L648.3 335.9L644.5 336.0L642.4 336.4L642.1 338.4L644.2 340.7L645.4 339.5L649.8 338.6L649.6 339.8L648.6 339.5L647.5 341.0L645.4 342.0L647.5 345.4L647.1 346.3L649.0 349.3L648.9 351.1L647.6 351.8L646.8 350.9L648.0 348.8L645.7 349.8L645.1 349.1L645.5 348.1L643.9 346.5L644.1 343.9L642.6 344.7L642.6 347.8L642.5 351.6L641.1 352.0L640.1 351.2L640.9 348.8L640.6 346.2L639.6 346.2L639.0 344.4L640.0 342.7L640.4 340.6L641.6 336.6L642.1 335.5L644.0 333.5L645.9 334.3L648.8 334.7L651.5 334.6L653.8 332.7ZM690.8 343.9L690.4 352.5L689.7 361.1L687.9 358.9L685.6 358.4L684.9 359.1L682.0 359.2L683.1 357.0L684.6 356.3L684.2 353.4L683.3 351.2L678.9 349.0L677.0 348.8L673.6 346.3L672.9 347.6L671.9 347.8L671.5 346.9L671.5 345.7L669.8 344.4L672.3 343.5L674.0 343.5L673.8 342.8L670.4 342.8L669.5 341.3L667.4 340.8L666.5 339.5L669.6 338.8L670.8 338.0L674.6 339.1L674.9 340.0L675.4 344.3L677.8 345.9L679.8 343.1L682.6 341.5L684.6 341.5L686.6 342.4L688.3 343.4ZM648.7 364.0L649.0 363.1L650.1 361.5L652.5 360.4L652.7 361.0L652.7 361.8L651.0 363.7L648.9 364.3ZM636.2 358.4L637.0 359.0L638.5 358.8L639.0 360.0L636.2 360.5L634.6 360.8L633.4 360.8L634.3 359.3L635.5 359.3ZM647.9 358.3L647.4 359.8L643.9 360.6L640.8 360.2L640.9 359.3L642.8 358.7L644.1 359.5L645.7 359.3ZM638.4 362.2L640.6 361.7L641.8 362.5L642.5 363.3L642.3 364.0L641.3 364.1ZM660.4 331.3L660.6 332.7L662.0 332.9L662.2 334.0L662.1 336.3L660.9 336.1L660.6 337.7L661.5 339.1L660.9 339.4L659.9 337.7L659.2 334.3L659.6 332.2ZM663.7 344.4L666.2 345.1L667.0 347.2L665.1 346.1L663.1 345.9L661.8 346.0L660.2 345.9L660.8 344.5ZM657.7 347.0L656.2 346.5L655.8 345.4L658.1 345.3L658.7 346.1Z"/>
<path fill="#fee391" d="M652.5 360.4L652.8 359.8L654.9 359.2L656.5 359.2L657.3 358.8L658.1 359.2L657.2 359.9L654.7 361.0L652.7 361.8L652.7 361.0Z"/>
<path fill="#fee391" d="M690.8 343.9L694.8 345.7L699.0 347.2L700.5 348.5L701.7 349.9L702.0 351.4L705.8 353.0L706.2 354.4L704.1 354.7L704.4 356.5L706.4 358.2L707.6 361.0L709.0 360.9L708.7 362.1L710.5 362.5L709.7 363.0L712.1 364.1L711.7 364.9L710.2 365.1L709.7 364.4L707.7 364.1L705.4 363.7L703.8 362.0L702.6 360.6L701.6 358.3L698.7 357.1L696.7 357.9L695.2 358.8L695.3 360.7L693.4 361.6L692.1 361.2L689.7 361.1L690.4 352.5ZM717.0 348.4L716.8 349.8L715.9 351.5L714.7 351.7L714.3 352.4L713.0 353.0L711.7 353.7L710.5 353.7L708.7 352.9L707.4 352.2L707.6 351.3L709.7 351.7L711.0 351.5L711.4 350.3L711.7 350.2L711.9 351.6L713.2 351.4L713.9 350.5L715.3 349.6L715.1 348.0L716.5 347.9ZM718.8 348.9L718.0 349.6L717.7 348.0L717.2 347.0L716.2 346.1L714.9 345.0L713.3 344.2L713.9 343.6L715.2 344.3L715.9 344.9L716.9 345.5L717.8 346.7L718.6 347.5ZM722.4 351.1L723.1 351.7L724.1 353.4L725.1 354.2L724.8 355.0L724.1 355.3L723.2 354.2L722.3 352.6L721.9 350.6L722.2 350.3Z"/>
<path fill="#fec44f" d="M640.8 288.2L642.3 288.9L642.9 288.3L643.2 288.9L643.0 290.0L644.2 291.9L643.9 294.1L642.7 295.0L642.6 297.1L643.4 299.2L644.7 299.5L645.7 299.2L648.8 300.7L648.7 302.1L649.6 302.7L649.5 303.9L647.5 302.6L646.5 301.3L646.0 302.2L644.3 300.7L642.3 301.0L641.1 300.4L641.0 299.4L641.7 298.7L640.9 298.1L640.7 299.0L639.4 297.5L638.9 296.4L638.4 293.9L639.5 294.7L639.0 290.6L639.4 288.2ZM655.9 314.8L656.2 316.6L656.5 318.0L655.8 320.5L654.8 317.8L653.8 319.1L654.7 321.0L654.1 322.3L651.3 320.8L650.5 318.8L651.1 317.6L649.6 316.3L648.9 317.4L647.8 317.3L646.2 318.8L645.7 318.0L646.5 315.8L647.9 315.1L649.1 314.1L650.0 315.3L651.7 314.6L652.0 313.4L653.6 313.3L653.3 311.3L655.3 312.5L655.6 313.8ZM639.2 307.0L639.9 309.2L638.5 310.6L637.4 312.4L634.5 314.9L635.5 313.1L637.1 311.5L638.3 309.6ZM652.1 303.9L652.9 304.9L653.8 307.9L652.0 307.2L652.1 308.0L652.9 309.7L651.8 310.3L651.5 308.4L650.8 308.3L650.3 306.7L651.7 306.9L651.5 305.9L649.9 303.9ZM647.5 306.5L647.6 307.5L646.6 308.7L645.2 309.5L645.1 308.2L645.1 306.9L644.6 305.6L646.0 306.5ZM649.9 309.9L649.1 310.8L648.6 312.4L647.9 313.2L646.3 311.4L646.7 310.7L647.2 309.9L647.3 308.3L648.6 308.1L648.4 309.9L649.9 307.4ZM643.4 302.5L643.0 304.8L641.9 303.5L640.5 301.5L642.5 301.6Z"/>
<path fill="#fee391" d="M639.4 225.3L639.9 225.7L639.0 225.6L638.6 226.5L638.5 227.4L639.7 229.2L638.9 229.8L638.7 230.3L638.3 231.0L637.2 231.5L636.6 232.2L637.1 233.3L637.0 233.6L638.1 234.0L639.9 235.2L639.1 236.0L637.6 236.1L637.3 237.3L636.3 237.2L636.3 237.4L635.0 236.9L635.0 237.4L634.4 237.7L634.1 237.2L633.4 236.9L632.7 236.5L632.7 235.3L633.0 235.0L632.6 234.6L632.5 233.1L632.1 232.7L630.7 232.4L629.3 231.7L630.2 230.1L631.8 228.6L632.2 226.8L633.7 227.6L635.6 227.7L634.5 226.3L637.1 225.2L637.1 223.7L639.4 225.3Z"/>
<path fill="#fec44f" d="M639.9 235.2L643.3 238.3L644.6 240.0L646.0 243.0L645.9 244.5L644.1 245.0L642.8 246.1L640.9 246.3L640.0 244.9L639.6 242.9L637.4 240.1L638.8 239.7L636.3 237.4L636.3 237.4L636.3 237.2L637.3 237.3L637.6 236.1L639.1 236.0L639.9 235.2Z"/>
<path fill="#fec44f" d="M668.3 233.7L667.8 236.3L669.3 239.1L669.5 241.2L670.5 242.5L670.3 244.3L668.1 245.6L664.3 245.7L662.5 248.7L660.6 247.7L659.6 245.7L656.0 246.3L654.0 247.6L651.4 247.6L654.4 249.6L654.8 254.0L653.7 255.2L652.3 254.1L651.9 251.8L650.2 251.0L648.6 249.2L650.3 248.4L650.8 246.7L652.4 245.3L653.2 243.6L657.2 242.8L659.8 243.3L659.8 238.6L661.9 239.9L663.7 237.2L664.4 236.2L664.0 233.0L661.9 230.1L661.8 228.4L663.8 227.9L667.1 231.6ZM654.9 248.7L655.5 247.2L656.9 247.5L657.3 246.4L659.1 246.9L659.8 247.8L659.3 249.4L658.0 248.6L657.1 249.2L657.2 250.8L655.4 250.0ZM664.4 220.7L666.2 221.2L667.0 220.1L669.4 223.0L666.8 223.7L666.6 226.3L662.1 224.5L662.8 227.4L660.5 227.4L658.5 224.9L658.3 222.8L660.4 222.7L658.6 219.1L657.9 217.1L662.2 219.8Z"/>
<path fill="url(#h)" stroke="#c8c8c8" d="M638.9 272.7L638.4 276.9L637.8 279.1L636.2 276.8L635.5 274.9L636.3 272.3L637.7 270.3L638.9 271.1Z"/>
<path fill="#8c2d04" d="M540.7 207.4L542.7 207.0L545.4 204.8L547.8 203.6L550.0 204.4L552.1 204.4L554.1 205.6L556.2 205.7L559.5 206.3L560.4 204.6L558.8 203.1L559.3 200.4L562.2 201.5L564.2 201.8L566.9 202.4L568.4 204.3L571.9 205.4L573.5 204.9L575.9 204.6L578.1 204.9L580.9 206.2L582.9 207.5L584.7 207.4L587.5 207.9L589.0 207.2L591.4 206.8L593.3 205.0L594.6 205.3L596.3 206.1L598.5 205.9L598.9 210.4L600.0 211.5L601.0 211.1L603.3 211.5L604.3 210.6L606.4 211.4L609.4 213.2L609.7 214.1L607.9 213.8L605.1 214.2L604.1 214.9L603.5 216.6L600.9 217.6L599.6 219.0L597.2 218.5L595.9 218.2L595.7 219.9L596.9 220.9L597.7 221.8L596.6 222.6L595.8 224.0L593.8 225.0L590.7 225.1L587.7 226.0L585.9 227.4L584.6 226.5L582.0 226.5L578.1 225.0L575.9 224.6L573.2 225.0L568.6 224.4L566.3 224.4L564.3 222.9L562.3 220.5L560.9 220.2L557.6 218.6L554.6 218.2L552.0 217.8L550.7 216.6L550.2 213.6L547.8 211.6L544.4 210.6L542.1 209.2L540.7 207.4Z"/>
<path fill="#fee391" d="M639.4 225.3L637.1 223.7L637.1 225.2L634.5 226.3L635.6 227.7L633.7 227.6L632.2 226.8L631.8 228.6L630.2 230.1L629.3 231.7L626.7 232.5L625.7 233.7L623.7 234.4L624.3 233.2L623.4 232.2L624.2 230.4L622.3 229.1L620.9 230.0L619.4 231.8L618.9 233.5L616.9 233.6L616.3 234.8L618.3 236.6L620.3 237.1L620.9 238.2L622.9 239.0L624.5 237.1L626.9 238.2L628.4 238.2L629.3 239.6L626.6 240.3L626.2 241.8L624.6 243.1L624.2 244.9L627.2 246.4L629.0 249.0L631.3 251.4L633.6 253.4L634.2 255.4L633.0 256.1L634.1 257.5L635.6 258.3L636.0 260.5L636.0 262.5L634.8 262.8L634.0 265.7L633.1 269.1L631.7 272.2L629.1 274.7L626.3 276.9L623.8 277.2L622.6 278.4L621.7 277.5L620.6 278.8L617.7 280.2L615.3 280.6L615.0 283.4L613.8 283.5L612.9 281.6L613.2 280.6L610.0 279.7L609.0 280.2L609.0 280.2L606.6 279.5L605.3 278.4L605.5 276.9L603.3 276.4L602.0 275.4L600.3 276.8L598.1 277.1L596.3 277.1L595.2 277.8L595.2 277.8L594.1 278.1L594.9 281.2L593.7 281.1L593.1 279.4L593.1 279.4L591.6 280.1L590.5 279.7L588.7 278.7L589.0 276.5L587.5 276.0L586.5 273.5L584.2 274.0L583.9 270.9L585.6 268.6L585.2 266.5L584.7 264.4L583.6 263.8L582.5 262.3L581.2 262.5L581.2 262.5L578.7 262.1L579.2 261.0L577.8 259.3L576.4 260.4L574.4 259.8L572.2 261.5L570.6 263.4L568.9 263.8L568.9 263.8L567.7 263.0L566.5 263.0L564.8 262.4L563.7 263.0L562.6 265.0L562.0 262.9L560.7 263.5L558.1 263.2L555.4 262.6L553.3 261.5L551.5 260.9L550.5 259.7L549.1 259.3L546.5 257.6L544.5 256.8L543.7 257.4L543.7 257.4L540.2 255.6L537.6 253.9L536.3 251.0L538.0 251.3L537.8 250.0L536.5 248.6L536.2 246.5L533.0 243.4L529.1 242.3L527.9 240.3L526.0 239.1L525.4 238.3L525.4 238.3L524.6 236.8L524.4 235.8L522.9 235.2L522.3 235.5L521.1 233.0L521.1 233.0L521.5 232.4L521.0 231.8L522.7 230.6L524.0 230.1L526.4 230.4L526.6 228.7L529.3 228.4L529.7 227.4L532.5 226.0L532.6 225.4L532.6 225.4L531.9 223.9L533.1 223.2L529.5 218.7L533.2 217.7L534.0 217.1L533.6 212.5L538.1 213.3L538.7 212.2L537.7 209.6L539.3 209.3L540.0 207.7L540.7 207.4L540.7 207.4L542.1 209.2L544.4 210.6L547.8 211.6L550.2 213.6L550.7 216.6L552.0 217.8L554.6 218.2L557.6 218.6L560.9 220.2L562.3 220.5L564.3 222.9L566.3 224.4L568.6 224.4L573.2 225.0L575.9 224.6L578.1 225.0L582.0 226.5L584.6 226.5L585.9 227.4L587.7 226.0L590.7 225.1L593.8 225.0L595.8 224.0L596.6 222.6L597.7 221.8L596.9 220.9L595.7 219.9L595.9 218.2L597.2 218.5L599.6 219.0L600.9 217.6L603.5 216.6L604.1 214.9L605.1 214.2L607.9 213.8L609.7 214.1L609.4 213.2L606.4 211.4L604.3 210.6L603.3 211.5L601.0 211.1L600.0 211.5L598.9 210.4L598.5 205.9L598.5 205.9L601.6 206.9L603.4 205.3L602.6 204.2L602.5 201.5L603.1 200.7L602.0 199.2L600.5 198.7L601.2 197.4L603.3 197.0L605.8 196.9L609.4 197.6L611.9 198.6L615.0 201.1L616.6 202.2L618.4 203.8L621.0 206.2L625.1 207.1L628.8 208.9L631.3 211.3L634.4 211.3L635.4 210.3L638.3 209.5L638.8 211.8L638.7 212.8L639.8 215.6L640.1 218.1L637.3 217.7L636.1 218.6L638.0 220.8L639.6 223.9L638.6 224.0L639.4 225.3ZM615.5 287.7L613.7 289.0L611.7 288.2L611.3 285.9L612.2 284.7L614.6 284.0L615.9 284.0L616.6 285.0L615.8 286.2Z"/>
<path fill="#fec44f" d="M479.7 238.9L481.5 238.4L482.8 236.9L484.2 236.9L485.1 236.5L486.7 236.7L489.4 238.1L491.2 238.3L494.2 240.7L495.8 240.8L496.5 243.0L496.3 246.3L496.1 248.2L497.1 248.6L496.4 250.0L497.5 252.1L498.0 253.8L499.8 254.2L500.3 255.9L498.6 258.3L498.6 258.3L500.0 259.7L501.1 261.3L503.4 262.5L503.9 264.8L505.0 265.2L505.3 266.4L502.3 267.8L501.8 270.9L497.4 270.1L494.9 269.5L492.3 269.1L490.9 265.9L489.8 265.4L488.1 265.9L486.0 267.2L483.1 266.3L480.6 264.3L478.4 263.5L476.6 261.0L474.5 257.5L473.3 257.9L471.8 257.0L471.1 258.1L469.6 256.7L469.4 255.3L468.7 255.3L468.8 253.4L467.4 251.4L464.5 249.9L462.6 247.4L462.8 245.3L463.7 244.5L463.3 242.9L461.8 242.1L459.8 239.0L458.3 236.9L458.6 236.1L457.4 233.0L458.7 232.3L459.2 233.3L460.6 234.5L462.1 234.8L462.9 234.8L465.1 232.8L465.8 232.6L466.6 233.4L466.1 234.7L467.7 236.1L468.2 236.0L469.3 237.9L471.4 238.4L473.2 239.8L476.4 240.2L479.7 239.5Z"/>
<path fill="#fe9929" d="M459.8 239.0L461.8 242.1L463.3 242.9L463.7 244.5L462.8 245.3L462.6 247.4L464.5 249.9L467.4 251.4L468.8 253.4L468.7 255.3L469.4 255.3L469.6 256.7L471.1 258.1L471.1 258.1L469.7 257.9L468.2 257.7L466.9 260.2L462.7 260.0L455.7 254.7L452.2 252.9L449.4 252.2L448.1 249.0L452.7 246.2L453.1 243.0L452.6 241.1L453.7 240.4L454.5 238.8L455.4 238.4L458.0 238.7L458.9 239.4L459.8 239.0Z"/>
<path fill="#8c2d04" d="M469.7 257.9L470.3 259.1L470.2 259.7L471.2 261.7L469.6 261.8L468.9 260.5L466.9 260.2L468.2 257.7Z"/>
<path fill="#fe9929" d="M448.1 249.0L444.1 251.8L441.6 250.7L441.8 250.3L441.6 249.2L442.0 247.8L443.1 246.8L442.6 245.8L441.6 245.6L441.1 243.6L441.5 242.5L442.1 241.9L442.6 241.4L442.5 239.9L443.3 240.4L445.6 239.7L446.8 240.2L448.6 240.2L450.9 239.2L452.1 239.2L454.5 238.8L454.5 238.8L453.7 240.4L452.6 241.1L453.1 243.0L452.7 246.2L448.1 249.0Z"/>
<path fill="#fee391" d="M441.6 249.2L441.0 249.3L440.9 249.7L440.1 249.7L440.7 247.6L441.6 245.7L441.6 245.6L442.6 245.8L443.1 246.8L442.0 247.8Z"/>
<path fill="#fec44f" d="M441.6 250.7L441.3 251.6L441.4 253.2L441.2 253.9L440.6 259.2L438.7 254.7L439.3 253.8L439.1 253.6L439.6 252.4L439.8 250.4L440.1 249.7L440.1 249.7L440.9 249.7L441.0 249.3L441.6 249.2L441.8 250.3Z"/>
<path fill="#fe9929" d="M441.3 251.6L441.6 250.7L444.1 251.8L448.1 249.0L449.4 252.2L449.0 252.6L444.7 253.9L447.3 256.5L446.6 257.0L446.3 257.9L444.6 258.2L444.2 259.2L443.3 260.0L440.8 259.6L440.6 259.2L441.2 253.9L441.4 253.2Z"/>
<path fill="#fee391" d="M460.9 293.9L460.5 292.8L459.8 292.0L459.5 290.9L458.3 290.0L456.9 287.8L456.2 285.6L454.5 283.8L453.4 283.4L451.8 280.8L451.4 279.0L451.4 277.4L449.9 274.5L448.8 273.5L447.5 272.9L446.6 271.4L446.7 270.9L446.0 269.5L445.3 268.9L444.3 266.9L442.7 264.8L441.4 263.0L440.3 263.0L440.5 261.5L440.6 260.6L440.8 259.6L443.3 260.0L444.2 259.2L444.6 258.2L446.3 257.9L446.6 257.0L447.3 256.5L444.7 253.9L449.0 252.6L449.4 252.2L449.4 252.2L452.2 252.9L455.7 254.7L462.7 260.0L466.9 260.2L468.9 260.5L469.6 261.8L471.2 261.7L472.3 264.0L473.5 264.6L474.0 265.5L475.6 266.6L475.9 267.7L475.8 268.6L476.1 269.5L476.9 270.2L477.3 271.1L477.7 271.7L478.4 272.2L479.0 272.0L479.5 273.0L479.7 273.7L480.8 276.3L487.7 277.7L488.2 277.1L489.4 279.0L488.3 284.3L481.6 286.9L475.1 287.9L473.0 289.1L471.6 291.8L470.5 292.3L469.9 291.4L469.0 291.6L466.8 291.3L466.3 291.0L463.7 291.1L463.1 291.3L462.1 290.6L461.6 291.9L461.9 293.0L460.9 293.9Z"/>
<path fill="#fec44f" d="M481.6 286.9L483.7 291.2L484.6 293.1L483.0 293.8L482.6 295.0L482.6 295.9L480.4 297.0L476.8 298.2L474.8 300.1L473.8 300.2L473.1 300.0L471.8 301.2L470.4 301.7L468.4 301.8L467.9 301.9L467.4 302.6L466.8 302.8L466.5 303.5L465.3 303.5L464.6 303.8L463.0 303.7L462.3 302.1L462.3 300.7L461.9 299.9L461.4 298.0L460.6 296.9L461.1 296.8L460.8 295.5L461.0 295.0L460.9 293.9L460.9 293.9L461.9 293.0L461.6 291.9L462.1 290.6L463.1 291.3L463.7 291.1L466.3 291.0L466.8 291.3L469.0 291.6L469.9 291.4L470.5 292.3L471.6 291.8L473.0 289.1L475.1 287.9L481.6 286.9Z"/>
<path fill="#cc4c02" d="M496.8 281.3L496.2 283.1L495.1 283.0L494.7 283.6L494.4 284.9L494.9 286.7L494.7 287.0L493.6 287.0L492.3 288.0L492.1 289.3L491.7 289.8L490.2 289.8L489.4 290.5L489.5 291.6L488.4 292.3L487.1 292.1L485.7 292.9L484.6 293.1L483.7 291.2L481.6 286.9L488.3 284.3L489.4 279.0L488.2 277.1L488.1 276.0L488.7 275.0L488.6 273.9L489.6 273.4L489.1 273.0L489.1 271.3L490.3 271.3L491.5 273.1L492.8 274.0L494.6 274.4L495.9 274.8L497.1 276.4L497.8 277.2L498.7 277.6L498.7 278.2L498.0 279.7L497.7 280.5ZM489.7 269.2L489.2 268.3L489.7 267.4L490.1 267.6L490.0 268.7Z"/>
<path fill="#ec7014" d="M479.5 273.0L479.9 272.9L480.1 273.6L481.8 273.2L483.7 273.3L485.1 273.4L486.4 271.6L488.0 269.9L489.2 268.3L489.7 269.2L490.3 271.3L489.1 271.3L489.1 273.0L489.6 273.4L488.6 273.9L488.7 275.0L488.1 276.0L488.2 277.1L487.7 277.7L480.8 276.3L479.7 273.7Z"/>
<path fill="#cc4c02" d="M477.7 271.7L477.3 269.8L477.8 268.4L478.4 268.1L479.1 269.0L479.3 270.5L479.0 272.0L478.4 272.2Z"/>
<path fill="#fee391" d="M351.0 242.7L352.3 243.8L354.4 243.6L356.7 244.2L357.6 244.2L358.5 245.9L358.6 247.5L359.3 250.3L359.9 250.9L359.5 251.9L356.6 252.4L355.6 253.3L354.3 253.5L354.2 255.5L351.5 256.6L350.7 257.9L348.8 258.6L346.6 259.0L342.9 260.9L342.9 264.0L332.7 264.1L334.0 263.0L336.1 262.8L337.9 261.0L339.1 260.2L341.0 258.1L340.5 254.8L341.5 252.5L341.8 251.1L343.2 249.3L345.5 248.1L347.2 247.0L348.7 244.3L349.4 242.7Z"/>
<path fill="url(#h)" stroke="#c8c8c8" d="M342.9 264.0L342.8 264.7L342.7 268.7L335.3 268.6L335.2 275.4L333.1 275.6L332.5 276.9L332.9 280.7L323.9 280.7L323.4 281.6L323.5 280.5L323.7 279.3L324.6 278.6L325.4 277.2L325.2 276.3L326.1 274.4L327.4 272.8L328.2 272.3L328.8 270.8L328.9 269.4L329.8 267.8L331.3 266.8L332.7 264.1Z"/>
<path fill="#fec44f" d="M323.4 281.6L323.9 280.7L332.9 280.7L332.5 276.9L333.1 275.6L335.2 275.4L335.3 268.6L342.7 268.7L342.8 264.7L351.2 271.1L347.8 271.2L348.8 282.6L349.8 293.9L350.1 294.3L349.6 296.1L340.4 296.1L340.0 296.8L339.1 296.6L337.8 297.1L336.2 296.4L335.5 296.4L335.1 298.0L334.3 298.4L332.8 296.6L331.4 294.7L329.9 294.0L328.8 293.2L327.6 293.2L326.4 293.8L325.3 293.6L324.5 294.4L324.3 293.0L325.0 291.7L325.3 289.2L325.1 286.6L324.9 285.3L325.1 284.0L324.6 282.7Z"/>
<path fill="#fe9929" d="M323.8 301.2L322.9 299.1L321.7 298.1L322.7 297.6L323.9 295.8L324.5 294.4L325.3 293.6L326.4 293.8L327.6 293.2L328.8 293.2L329.9 294.0L331.4 294.7L332.8 296.6L334.3 298.4L334.4 300.1L334.8 301.6L335.7 302.3L335.9 303.4L335.8 304.2L335.4 304.3L334.2 304.1L334.0 304.4L333.5 304.5L331.8 303.8L330.7 303.8L326.4 303.7L325.8 304.0L325.0 303.9L323.8 304.3L323.5 302.3L325.6 302.4L326.1 302.0L326.5 302.0L327.4 301.4L328.4 301.9L329.4 302.0L330.4 301.4L329.9 300.6L329.2 301.1L328.5 301.1L327.6 300.4L326.8 300.4L326.3 301.1Z"/>
<path fill="#fe9929" d="M323.5 302.3L323.8 301.2L326.3 301.1L326.8 300.4L327.6 300.4L328.5 301.1L329.2 301.1L329.9 300.6L330.4 301.4L329.4 302.0L328.4 301.9L327.4 301.4L326.5 302.0L326.1 302.0L325.6 302.4Z"/>
<path fill="#fe9929" d="M327.3 307.9L326.1 306.8L325.1 306.6L324.6 305.9L324.6 305.5L324.0 304.9L323.8 304.3L325.0 303.9L325.8 304.0L326.4 303.7L330.7 303.8L330.6 304.7L330.4 305.0L330.6 305.9L330.2 306.2L329.7 306.2L329.1 306.6L328.4 306.6Z"/>
<path fill="#fee391" d="M342.8 316.7L342.1 316.7L341.6 317.7L341.0 317.7L340.6 317.1L340.7 316.1L339.7 314.5L339.1 314.8L338.6 314.8L338.0 315.0L338.0 314.0L337.7 313.3L337.8 312.6L337.3 311.4L336.6 310.5L334.8 310.5L334.2 311.0L333.6 311.0L333.2 311.6L332.9 312.4L331.6 313.5L330.6 312.0L329.8 310.9L329.2 310.6L328.6 310.1L328.3 308.9L328.0 308.3L327.3 307.9L328.4 306.6L329.1 306.6L329.7 306.2L330.2 306.2L330.6 305.9L330.4 305.0L330.6 304.7L330.7 303.8L331.8 303.8L333.5 304.5L334.0 304.4L334.2 304.1L335.4 304.3L335.8 304.2L335.9 305.1L336.2 305.1L336.8 304.8L337.2 304.9L337.9 305.6L338.9 305.8L339.5 305.2L340.3 304.8L340.8 304.5L341.3 304.5L341.8 305.1L342.0 305.9L343.0 307.0L342.5 307.6L342.4 308.5L342.9 308.2L343.2 308.5L343.1 309.3L343.8 310.1L343.3 310.3L343.1 311.2L343.7 312.3L344.2 314.4L343.4 314.7L343.1 315.1L343.3 315.6L343.2 316.7Z"/>
<path fill="#fee391" d="M335.8 319.1L335.2 318.9L333.5 317.9L332.3 316.4L331.9 315.5L331.6 313.5L332.9 312.4L333.2 311.6L333.6 311.0L334.2 311.0L334.8 310.5L336.6 310.5L337.3 311.4L337.8 312.6L337.7 313.3L338.0 314.0L338.0 315.0L338.6 314.8L337.5 316.1L336.5 317.5L336.4 318.2Z"/>
<path fill="#fec44f" d="M344.5 325.5L343.9 325.5L341.5 324.3L339.3 322.3L337.4 320.8L335.8 319.1L336.4 318.2L336.5 317.5L337.5 316.1L338.6 314.8L339.1 314.8L339.7 314.5L340.7 316.1L340.6 317.1L341.0 317.7L341.6 317.7L342.1 316.7L342.8 316.7L342.7 317.5L342.9 318.8L342.4 319.9L343.1 320.7L343.8 320.8L344.8 321.9L344.9 323.0L344.6 323.3Z"/>
<path fill="#ec7014" d="M355.7 323.8L354.7 323.9L353.1 323.3L351.6 323.4L348.8 323.8L347.2 324.6L344.9 325.6L344.5 325.5L344.6 323.3L344.9 323.0L344.8 321.9L343.8 320.8L343.1 320.7L342.4 319.9L342.9 318.8L342.7 317.5L342.8 316.7L343.2 316.7L343.3 315.6L343.1 315.1L343.4 314.7L344.2 314.4L343.7 312.3L343.1 311.2L343.3 310.3L343.8 310.1L344.1 309.8L344.7 310.2L346.5 310.3L346.9 309.5L347.4 309.5L348.0 309.3L348.4 310.4L348.9 310.0L349.9 309.6L350.9 310.2L351.3 311.1L352.4 311.7L353.2 311.0L354.3 310.9L355.8 311.6L356.5 315.3L355.5 317.5L354.9 320.5L355.9 322.8Z"/>
<path fill="#fec44f" d="M334.3 298.4L335.1 298.0L335.5 296.4L336.2 296.4L337.8 297.1L339.1 296.6L340.0 296.8L340.4 296.1L349.6 296.1L350.1 294.3L349.8 293.9L348.8 282.6L347.8 271.2L351.2 271.1L358.9 276.9L366.6 282.6L367.1 283.9L368.5 284.6L369.6 285.1L369.6 286.7L372.2 286.5L372.2 292.6L371.0 294.3L370.8 295.9L368.7 296.4L365.6 296.6L364.8 297.5L363.3 297.6L361.8 297.6L361.2 297.1L359.9 297.5L357.8 298.6L357.3 299.4L355.5 300.6L355.2 301.3L354.3 301.8L353.1 301.5L352.5 302.1L352.2 303.9L350.3 306.1L350.4 307.0L349.7 308.1L349.9 309.6L348.9 310.0L348.4 310.4L348.0 309.3L347.4 309.5L346.9 309.5L346.5 310.3L344.7 310.2L344.1 309.8L343.8 310.1L343.1 309.3L343.2 308.5L342.9 308.2L342.4 308.5L342.5 307.6L343.0 307.0L342.0 305.9L341.8 305.1L341.3 304.5L340.8 304.5L340.3 304.8L339.5 305.2L338.9 305.8L337.9 305.6L337.2 304.9L336.8 304.8L336.2 305.1L335.9 305.1L335.8 304.2L335.9 303.4L335.7 302.3L334.8 301.6L334.4 300.1Z"/>
<path fill="#fe9929" d="M355.8 311.6L354.3 310.9L353.2 311.0L352.4 311.7L351.3 311.1L350.9 310.2L349.9 309.6L349.7 308.1L350.4 307.0L350.3 306.1L352.2 303.9L352.5 302.1L353.1 301.5L354.3 301.8L355.2 301.3L355.5 300.6L357.3 299.4L357.8 298.6L359.9 297.5L361.2 297.1L361.8 297.6L363.3 297.6L363.1 298.9L363.4 300.1L364.7 301.8L364.8 303.1L367.4 303.7L367.4 305.5L366.9 306.3L365.8 306.5L365.3 307.7L364.5 308.0L362.4 307.9L361.4 307.7L360.6 308.1L359.6 308.0L355.6 308.1L355.5 309.6Z"/>
<path fill="#fe9929" d="M364.9 321.4L361.2 322.9L359.9 323.8L357.8 324.6L355.7 323.8L355.9 322.8L354.9 320.5L355.5 317.5L356.5 315.3L355.8 311.6L355.5 309.6L355.6 308.1L359.6 308.0L360.6 308.1L361.4 307.7L362.4 307.9L362.3 308.8L363.3 310.1L363.3 312.0L363.5 314.1L364.0 315.1L363.5 317.5L363.7 318.8L364.4 320.4Z"/>
<path fill="#fe9929" d="M366.7 320.8L364.9 321.4L364.4 320.4L363.7 318.8L363.5 317.5L364.0 315.1L363.5 314.1L363.3 312.0L363.3 310.1L362.3 308.8L362.4 307.9L364.5 308.0L364.2 309.4L364.9 310.2L365.7 311.1L365.8 312.4L366.3 312.9L366.2 319.0Z"/>
<path fill="#fe9929" d="M368.7 320.5L366.7 320.8L366.2 319.0L366.3 312.9L365.8 312.4L365.7 311.1L364.9 310.2L364.2 309.4L364.5 308.0L365.3 307.7L365.8 306.5L366.9 306.3L367.4 305.5L368.2 304.7L369.0 304.7L370.8 306.2L370.7 307.1L371.2 308.7L370.7 309.8L371.0 310.5L369.9 312.1L369.2 312.9L368.7 314.6L368.8 316.2Z"/>
<path fill="#cc4c02" d="M382.2 324.4L379.8 325.4L378.9 325.2L378.0 325.8L376.1 325.8L374.9 324.1L374.1 322.2L372.5 320.5L370.7 320.5L368.7 320.5L368.8 316.2L368.7 314.6L369.2 312.9L369.9 312.1L371.0 310.5L370.7 309.8L371.2 308.7L370.7 307.1L370.8 306.2L370.9 303.9L371.6 302.8L371.9 301.3L372.5 300.7L375.0 300.4L377.3 301.4L378.2 302.4L379.3 302.4L380.4 301.8L383.2 303.2L384.4 303.1L385.8 302.0L387.1 302.1L387.8 301.7L389.1 301.8L390.8 302.6L392.6 301.1L393.2 301.2L394.8 304.1L395.2 304.1L396.1 305.1L395.9 305.6L395.8 306.5L393.9 308.5L393.3 310.2L393.0 311.6L392.5 312.2L392.0 314.0L390.8 315.1L390.4 316.4L389.9 317.5L389.7 318.6L388.1 319.5L386.8 318.4L385.9 318.4L384.5 320.0L383.9 320.0L382.8 322.5Z"/>
<path fill="#fec44f" d="M367.4 305.5L367.4 303.7L364.8 303.1L364.7 301.8L363.4 300.1L363.1 298.9L363.3 297.6L364.8 297.5L365.6 296.6L368.7 296.4L370.8 295.9L371.0 294.3L372.2 292.6L372.2 286.5L375.4 285.3L382.0 280.1L389.7 275.1L393.3 276.2L394.6 277.7L396.2 276.7L396.9 280.8L397.7 281.5L397.8 282.3L398.8 283.2L398.3 284.4L397.5 289.7L397.5 293.1L394.6 295.6L393.7 299.1L394.6 300.1L394.6 301.8L396.1 301.8L395.9 303.1L395.3 303.2L395.2 304.1L394.8 304.1L393.2 301.2L392.6 301.1L390.8 302.6L389.1 301.8L387.8 301.7L387.1 302.1L385.8 302.0L384.4 303.1L383.2 303.2L380.4 301.8L379.3 302.4L378.2 302.4L377.3 301.4L375.0 300.4L372.5 300.7L371.9 301.3L371.6 302.8L370.9 303.9L370.8 306.2L369.0 304.7L368.2 304.7Z"/>
<path fill="#fec44f" d="M389.7 275.1L382.0 280.1L375.4 285.3L372.2 286.5L369.6 286.7L369.6 285.1L368.5 284.6L367.1 283.9L366.6 282.6L358.9 276.9L351.2 271.1L342.8 264.7L342.9 264.0L342.9 260.9L346.6 259.0L348.8 258.6L350.7 257.9L351.5 256.6L354.2 255.5L354.3 253.5L355.6 253.3L356.6 252.4L359.5 251.9L359.9 250.9L359.3 250.3L358.6 247.5L358.5 245.9L357.6 244.2L359.8 242.8L362.1 242.3L363.5 241.3L365.6 240.4L369.3 240.0L372.9 239.8L374.0 240.2L376.0 239.1L378.4 239.1L379.3 239.7L380.7 239.6L380.3 240.9L380.8 243.4L380.3 245.6L379.0 247.1L379.2 249.1L381.1 250.6L381.1 251.3L382.5 252.3L383.6 257.1L384.4 259.4L384.5 260.6L384.2 262.8L384.4 264.0L384.1 265.4L384.4 267.1L383.5 268.2L384.8 270.1L385.0 271.2L385.8 272.7L386.8 272.2L388.7 273.4Z"/>
<path fill="#fec44f" d="M383.6 257.1L382.5 252.3L381.1 251.3L381.1 250.6L379.2 249.1L379.0 247.1L380.3 245.6L380.8 243.4L380.3 240.9L380.7 239.6L383.1 238.5L384.6 238.8L384.6 240.2L386.4 239.2L386.6 239.7L385.5 241.0L385.6 242.2L386.4 242.8L386.2 245.1L384.8 246.5L385.2 247.9L386.4 247.9L387.0 249.2L387.8 249.6L387.8 251.6L386.7 252.4L386.1 253.2L384.6 254.2L384.8 255.3L384.7 256.5Z"/>
<path fill="#fec44f" d="M396.2 276.7L394.6 277.7L393.3 276.2L389.7 275.1L388.7 273.4L386.8 272.2L385.8 272.7L385.0 271.2L384.8 270.1L383.5 268.2L384.4 267.1L384.1 265.4L384.4 264.0L384.2 262.8L384.5 260.6L384.4 259.4L383.6 257.1L384.7 256.5L384.8 255.3L384.6 254.2L386.1 253.2L386.7 252.4L387.8 251.6L387.8 249.6L390.4 250.5L391.4 250.3L393.2 250.7L396.3 251.9L397.4 254.2L399.4 254.8L402.6 255.9L405.1 257.2L406.1 256.5L407.1 255.3L406.5 253.3L407.1 252.0L408.6 250.7L410.1 250.4L413.2 250.9L414.0 252.1L414.8 252.1L415.6 252.5L417.8 252.9L418.4 253.7L417.7 255.0L418.1 256.1L417.6 257.8L418.5 259.9L419.0 269.3L419.4 279.0L419.6 284.3L417.0 284.3L417.0 285.4L407.7 280.3L398.5 275.3Z"/>
<path fill="#fec44f" d="M419.4 279.0L419.0 269.3L418.5 259.9L417.6 257.8L418.1 256.1L417.7 255.0L418.4 253.7L421.4 253.7L423.6 254.4L425.8 255.2L426.9 255.6L428.5 254.7L429.4 254.0L431.3 253.8L433.0 254.1L433.7 255.4L434.1 254.6L435.9 255.2L437.7 255.3L438.7 254.7L440.6 259.2L440.1 260.2L439.8 262.3L439.3 263.6L438.8 264.1L438.0 263.2L436.9 262.0L435.0 258.3L434.7 258.5L435.9 261.3L437.5 263.9L439.5 268.1L440.4 269.5L441.3 271.0L443.5 273.9L443.1 274.4L443.3 276.1L446.0 278.4L446.5 279.0Z"/>
<path fill="#fee391" d="M446.5 279.0L447.4 281.6L446.9 282.0L447.4 284.8L448.4 287.9L449.3 288.5L450.6 289.5L449.5 291.0L447.9 291.5L447.2 292.3L447.0 294.0L446.2 297.9L446.5 299.0L446.2 301.2L445.4 303.8L444.0 305.1L443.1 307.1L442.9 308.2L441.8 309.0L441.2 311.7L441.2 312.0L440.9 312.0L440.9 310.7L440.6 309.8L439.4 308.7L439.0 306.8L439.3 304.9L438.2 304.7L438.0 305.3L436.6 305.4L437.2 306.2L437.5 307.8L436.2 309.2L435.1 311.1L433.9 311.4L432.0 309.9L431.1 310.4L430.9 311.2L429.7 311.7L429.6 312.2L427.3 312.2L427.0 311.7L425.3 311.6L424.5 312.0L423.8 311.8L422.6 310.3L422.2 309.5L420.5 309.9L419.9 311.1L419.4 313.5L418.6 314.0L417.9 314.3L417.7 314.1L416.9 313.4L416.7 312.6L417.1 311.5L417.0 310.4L415.7 308.8L415.4 307.6L415.4 307.0L414.5 306.2L414.5 304.7L414.0 303.6L413.2 303.8L413.4 302.8L413.9 301.7L413.6 300.6L414.4 299.8L413.9 299.2L414.5 297.6L415.5 295.6L417.5 295.8L417.0 285.4L417.0 284.3L419.6 284.3L419.4 279.0Z"/>
<path fill="#fe9929" d="M441.2 312.0L441.3 314.1L441.0 314.9L439.7 315.0L438.9 316.5L440.4 316.7L441.6 317.9L442.0 319.0L443.1 319.6L444.5 322.5L443.0 324.2L441.6 325.8L440.1 327.0L438.5 327.0L436.6 327.6L435.1 327.0L434.2 327.7L432.1 326.0L431.6 324.9L430.3 325.4L429.2 325.2L428.6 325.7L427.5 325.4L426.1 323.2L425.7 322.4L424.0 321.3L423.3 319.7L422.4 318.6L420.8 317.2L420.7 316.3L419.5 315.3L417.9 314.3L418.6 314.0L419.4 313.5L419.9 311.1L420.5 309.9L422.2 309.5L422.6 310.3L423.8 311.8L424.5 312.0L425.3 311.6L427.0 311.7L427.3 312.2L429.6 312.2L429.7 311.7L430.9 311.2L431.1 310.4L432.0 309.9L433.9 311.4L435.1 311.1L436.2 309.2L437.5 307.8L437.2 306.2L436.6 305.4L438.0 305.3L438.2 304.7L439.3 304.9L439.0 306.8L439.4 308.7L440.6 309.8L440.9 310.7L440.9 312.0L441.2 312.0Z"/>
<path fill="#fe9929" d="M460.4 303.9L459.6 303.1L458.5 301.5L457.5 300.7L456.9 299.8L454.8 298.7L453.2 298.7L452.6 298.1L451.3 298.7L449.9 297.5L449.2 299.5L446.5 299.0L446.2 297.9L447.0 294.0L447.2 292.3L447.9 291.5L449.5 291.0L450.6 289.5L452.1 292.6L452.9 295.0L454.2 296.3L457.5 298.8L458.8 300.3L460.1 301.8L460.9 302.7L462.1 303.5L461.4 304.1Z"/>
<path fill="#fe9929" d="M462.1 303.5L462.6 304.3L462.6 305.4L461.3 306.0L462.3 306.8L461.5 308.2L461.0 307.7L460.4 307.9L459.2 307.9L459.1 307.0L458.9 306.3L459.6 305.1L460.4 303.9L461.4 304.1Z"/>
<path fill="#fe9929" d="M449.9 297.5L451.3 298.7L452.6 298.1L453.2 298.7L454.8 298.7L456.9 299.8L457.5 300.7L458.5 301.5L459.6 303.1L460.4 303.9L459.6 305.1L458.9 306.3L459.1 307.0L459.2 307.9L460.4 307.9L461.0 307.7L461.5 308.2L461.1 309.1L462.0 310.6L462.9 311.8L463.8 312.8L471.5 315.9L473.4 315.9L467.0 323.8L464.0 323.9L461.9 325.8L460.5 325.8L459.8 326.7L458.2 326.7L457.3 325.8L455.2 326.9L454.5 328.0L452.9 327.8L452.4 327.5L451.9 327.5L451.1 327.5L448.2 325.3L446.6 325.3L445.8 324.4L445.7 322.9L444.5 322.5L443.1 319.6L442.0 319.0L441.6 317.9L440.4 316.7L438.9 316.5L439.7 315.0L441.0 314.9L441.3 314.1L441.2 311.7L441.8 309.0L442.9 308.2L443.1 307.1L444.0 305.1L445.4 303.8L446.2 301.2L446.5 299.0L449.2 299.5Z"/>
<path fill="#fee391" d="M461.5 308.2L462.3 306.8L463.1 307.2L463.6 308.4L464.7 309.4L465.8 309.5L468.0 308.8L470.5 308.5L472.5 307.6L473.7 307.5L474.5 307.0L475.8 306.9L476.5 306.9L477.6 306.5L478.8 306.2L479.8 305.3L480.7 305.3L480.8 306.0L480.6 307.5L480.7 308.9L480.3 309.9L479.7 312.7L478.7 315.7L477.4 319.1L475.4 322.9L473.5 325.9L470.8 329.5L468.5 331.6L465.1 334.2L462.9 336.2L460.3 339.4L459.8 340.8L459.3 341.4L457.9 339.3L457.8 329.7L459.8 326.7L460.5 325.8L461.9 325.8L464.0 323.9L467.0 323.8L473.4 315.9L471.5 315.9L463.8 312.8L462.9 311.8L462.0 310.6L461.1 309.1Z"/>
<path fill="#fe9929" d="M457.9 339.3L459.3 341.4L457.6 342.5L457.1 343.6L456.2 343.8L455.8 345.7L455.1 346.7L454.6 348.5L453.6 349.3L450.3 346.7L450.2 345.2L441.8 339.8L441.4 339.5L441.4 336.7L442.0 335.6L443.2 333.9L444.0 332.0L443.0 329.0L442.7 327.6L441.6 325.8L443.0 324.2L444.5 322.5L445.7 322.9L445.8 324.4L446.6 325.3L448.2 325.3L451.1 327.5L451.9 327.5L452.4 327.5L452.9 327.8L454.5 328.0L455.2 326.9L457.3 325.8L458.2 326.7L459.8 326.7L457.8 329.7Z"/>
<path fill="#ec7014" d="M431.3 340.5L431.3 338.6L431.9 337.6L432.0 335.4L432.5 334.2L433.4 332.8L434.3 332.1L435.0 331.2L434.1 330.8L434.2 327.7L435.1 327.0L436.6 327.6L438.5 327.0L440.1 327.0L441.6 325.8L442.7 327.6L443.0 329.0L444.0 332.0L443.2 333.9L442.0 335.6L441.4 336.7L441.4 339.5L436.7 339.7L434.1 339.7L433.3 340.0L431.9 340.8Z"/>
<path fill="#fec44f" d="M433.3 340.0L434.2 341.5L434.0 343.0L433.4 343.4L432.1 343.2L431.4 344.7L430.0 344.5L430.2 343.0L430.5 342.9L430.6 341.3L431.3 340.5L431.9 340.8Z"/>
<path fill="#fe9929" d="M430.7 348.9L430.6 345.7L430.0 344.5L431.4 344.7L432.1 343.2L433.4 343.4L433.5 344.4L434.0 345.0L434.0 345.9L433.4 346.4L432.5 347.8L431.6 348.7Z"/>
<path fill="#fe9929" d="M441.4 339.5L441.8 339.8L450.2 345.2L450.3 346.7L453.6 349.3L452.5 352.6L452.6 354.1L454.1 355.0L454.1 355.7L453.4 357.3L453.6 358.1L453.4 359.4L454.2 361.0L455.0 363.6L455.9 364.2L454.0 365.7L451.4 366.8L450.0 366.7L449.2 367.5L447.6 367.6L446.9 367.9L444.2 367.2L442.4 367.4L441.9 363.8L441.1 362.6L440.7 361.8L438.4 361.3L437.1 360.6L435.7 360.1L434.7 359.7L433.8 359.0L432.6 355.7L431.3 354.2L430.8 352.7L431.1 351.3L430.7 348.9L431.6 348.7L432.5 347.8L433.4 346.4L434.0 345.9L434.0 345.0L433.5 344.4L433.4 343.4L434.0 343.0L434.2 341.5L433.3 340.0L434.1 339.7L436.7 339.7Z"/>
<path fill="#fec44f" d="M395.9 303.1L396.1 301.8L394.6 301.8L394.6 300.1L393.7 299.1L394.6 295.6L397.5 293.1L397.5 289.7L398.3 284.4L398.8 283.2L397.8 282.3L397.7 281.5L396.9 280.8L396.2 276.7L398.5 275.3L407.7 280.3L417.0 285.4L417.5 295.8L415.5 295.6L414.5 297.6L413.9 299.2L414.4 299.8L413.6 300.6L413.9 301.7L413.4 302.8L413.2 303.8L414.0 303.6L414.5 304.7L414.5 306.2L415.4 307.0L415.4 307.6L413.9 308.1L412.7 309.1L411.1 312.0L409.0 313.2L406.7 313.1L406.1 313.3L406.3 314.2L405.1 315.2L404.1 316.2L401.2 317.2L400.6 316.6L400.2 316.6L399.8 317.2L397.9 317.4L398.3 316.7L397.5 314.9L397.2 313.8L396.2 313.3L394.8 311.8L395.3 310.6L396.3 310.8L397.0 310.7L398.3 310.7L397.0 308.3L397.0 306.5L396.9 304.8Z"/>
<path fill="#fe9929" d="M395.9 303.1L396.9 304.8L397.0 306.5L397.0 308.3L398.3 310.7L397.0 310.7L396.3 310.8L395.3 310.6L394.8 311.8L396.2 313.3L397.2 313.8L397.5 314.9L398.3 316.7L397.9 317.4L396.8 320.1L396.2 320.6L396.0 322.6L396.3 323.7L396.1 324.5L397.2 325.9L397.4 326.8L398.3 328.2L399.3 329.1L399.5 330.2L399.7 331.0L399.5 332.4L395.8 331.1L392.9 331.0L392.6 330.9L391.2 331.2L389.8 330.9L388.7 331.0L384.9 331.0L385.2 328.9L384.3 327.2L383.2 326.7L382.7 325.5L382.2 325.1L382.2 324.4L382.8 322.5L383.9 320.0L384.5 320.0L385.9 318.4L386.8 318.4L388.1 319.5L389.7 318.6L389.9 317.5L390.4 316.4L390.8 315.1L392.0 314.0L392.5 312.2L393.0 311.6L393.3 310.2L393.9 308.5L395.8 306.5L395.9 305.6L396.1 305.1L395.2 304.1L395.3 303.2Z"/>
<path fill="#ec7014" d="M397.9 317.4L399.8 317.2L400.2 316.6L400.6 316.6L401.2 317.2L404.1 316.2L405.1 315.2L406.3 314.2L406.1 313.3L406.7 313.1L409.0 313.2L411.1 312.0L412.7 309.1L413.9 308.1L415.4 307.6L415.7 308.8L417.0 310.4L417.1 311.5L416.7 312.6L416.9 313.4L417.7 314.1L417.9 314.3L419.5 315.3L420.7 316.3L420.8 317.2L422.4 318.6L423.3 319.7L424.0 321.3L425.7 322.4L426.1 323.2L425.3 323.5L423.8 323.4L422.1 323.1L421.2 323.4L420.9 324.0L420.1 324.1L419.2 323.5L416.6 324.8L415.5 324.6L415.2 324.8L414.6 326.4L412.8 325.9L411.1 325.6L409.6 324.6L407.7 323.7L406.5 324.6L405.6 325.9L405.4 327.8L403.9 327.6L402.3 327.2L400.9 328.6L399.7 331.0L399.5 330.2L399.3 329.1L398.3 328.2L397.4 326.8L397.2 325.9L396.1 324.5L396.3 323.7L396.0 322.6L396.2 320.6L396.8 320.1Z"/>
<path fill="#fe9929" d="M384.9 331.0L388.7 331.0L388.7 334.2L385.3 334.2L384.5 334.3L384.1 333.9Z"/>
<path fill="#cc4c02" d="M388.2 347.5L385.8 344.8L384.3 342.6L382.9 339.9L383.0 339.1L383.5 338.2L384.0 336.3L384.5 334.3L385.3 334.2L388.7 334.2L388.7 331.0L389.8 330.9L391.2 331.2L392.6 330.9L392.9 331.0L392.7 332.2L393.3 333.5L395.1 333.3L395.7 333.8L394.6 336.9L395.8 338.5L396.0 340.5L395.7 342.3L395.0 343.5L392.9 343.4L391.7 342.1L391.5 343.3L389.9 343.6L389.1 344.3L390.0 346.0Z"/>
<path fill="#fe9929" d="M392.7 349.6L391.8 348.7L391.1 349.2L390.1 350.3L388.2 347.5L390.0 346.0L389.1 344.3L389.9 343.6L391.5 343.3L391.7 342.1L392.9 343.4L395.0 343.5L395.7 342.3L396.0 340.5L395.8 338.5L394.6 336.9L395.7 333.8L395.1 333.3L393.3 333.5L392.7 332.2L392.9 331.0L395.8 331.1L399.5 332.4L399.7 331.0L400.9 328.6L402.3 327.2L403.9 327.6L405.4 327.8L405.2 329.4L404.5 330.7L404.1 332.4L403.8 334.7L403.9 336.2L403.5 337.2L403.5 338.1L403.2 339.0L401.7 340.2L400.6 341.6L399.6 344.1L399.7 346.3L399.1 347.2L397.7 348.4L396.3 350.1L395.5 349.6L395.3 348.9L394.1 348.9L393.3 349.9Z"/>
<path fill="#fe9929" d="M434.2 327.7L434.1 330.8L435.0 331.2L434.3 332.1L433.4 332.8L432.5 334.2L432.0 335.4L431.9 337.6L431.3 338.6L431.3 340.5L430.6 341.3L430.5 342.9L430.2 343.0L430.0 344.5L430.6 345.7L430.7 348.9L431.1 351.3L430.8 352.7L431.3 354.2L432.6 355.7L433.8 359.0L432.9 358.7L429.7 359.2L429.1 359.5L428.4 361.2L428.9 362.3L428.5 365.5L428.1 368.1L428.7 368.6L430.3 369.6L431.0 369.1L431.1 372.0L429.3 371.9L428.4 370.5L427.6 369.4L425.8 369.0L425.3 367.6L423.9 368.4L422.0 368.1L421.3 366.9L419.8 366.6L418.7 366.7L418.6 365.9L417.8 365.8L416.8 365.7L415.3 366.1L414.3 366.0L413.7 366.2L413.9 363.1L413.2 362.1L413.0 360.5L413.4 358.9L412.9 357.9L412.9 356.2L410.1 356.3L410.3 355.3L409.1 355.3L409.0 355.8L407.5 355.9L406.9 357.4L406.6 358.1L405.3 357.7L404.5 358.1L403.0 358.3L402.1 356.9L401.6 356.0L400.9 354.5L400.4 352.5L393.5 352.5L392.7 352.8L392.0 352.7L391.0 353.1L390.7 352.3L391.3 352.0L391.4 350.8L391.8 350.2L392.7 349.6L393.3 349.9L394.1 348.9L395.3 348.9L395.5 349.6L396.3 350.1L397.7 348.4L399.1 347.2L399.7 346.3L399.6 344.1L400.6 341.6L401.7 340.2L403.2 339.0L403.5 338.1L403.5 337.2L403.9 336.2L403.8 334.7L404.1 332.4L404.5 330.7L405.2 329.4L405.4 327.8L405.6 325.9L406.5 324.6L407.7 323.7L409.6 324.6L411.1 325.6L412.8 325.9L414.6 326.4L415.2 324.8L415.5 324.6L416.6 324.8L419.2 323.5L420.1 324.1L420.9 324.0L421.2 323.4L422.1 323.1L423.8 323.4L425.3 323.5L426.1 323.2L427.5 325.4L428.6 325.7L429.2 325.2L430.3 325.4L431.6 324.9L432.1 326.0Z"/>
<path fill="#fe9929" d="M400.4 352.5L400.9 354.5L401.6 356.0L402.1 356.9L403.0 358.3L404.5 358.1L405.3 357.7L406.6 358.1L406.9 357.4L407.5 355.9L409.0 355.8L409.1 355.3L410.3 355.3L410.1 356.3L412.9 356.2L412.9 357.9L413.4 358.9L413.0 360.5L413.2 362.1L413.9 363.1L413.7 366.2L414.3 366.0L415.3 366.1L416.8 365.7L417.8 365.8L418.0 366.6L417.7 367.9L418.1 369.2L417.8 370.2L417.9 371.0L413.1 371.0L412.8 379.4L414.3 381.6L415.8 383.2L411.5 384.3L406.0 383.9L404.4 382.7L395.1 382.8L394.7 382.9L393.4 381.8L391.9 381.7L390.5 382.1L389.4 382.6L389.2 381.0L389.5 378.6L390.4 376.2L390.5 375.1L391.3 372.7L391.9 371.7L393.2 369.9L394.0 368.8L394.2 366.8L394.1 365.3L393.4 364.4L392.8 362.8L392.3 361.2L392.4 360.6L393.1 359.6L392.4 357.0L392.0 355.3L390.8 353.6L391.0 353.1L392.0 352.7L392.7 352.8L393.5 352.5ZM391.3 352.0L390.7 352.3L390.1 350.3L391.1 349.2L391.8 348.7L392.7 349.6L391.8 350.2L391.4 350.8Z"/>
<path fill="#ec7014" d="M438.4 361.3L439.5 362.5L440.0 364.8L439.6 365.5L439.1 367.6L439.5 369.8L438.7 370.7L437.9 373.2L439.1 373.8L432.0 376.0L432.2 377.9L430.4 378.3L429.1 379.3L428.8 380.2L427.9 380.4L425.9 382.6L424.5 384.3L423.7 384.4L423.0 384.1L420.4 383.8L420.0 383.6L420.0 383.4L419.1 382.8L417.6 382.6L415.8 383.2L414.3 381.6L412.8 379.4L413.1 371.0L417.9 371.0L417.8 370.2L418.1 369.2L417.7 367.9L418.0 366.6L417.8 365.8L418.6 365.9L418.7 366.7L419.8 366.6L421.3 366.9L422.0 368.1L423.9 368.4L425.3 367.6L425.8 369.0L427.6 369.4L428.4 370.5L429.3 371.9L431.1 372.0L431.0 369.1L430.3 369.6L428.7 368.6L428.1 368.1L428.5 365.5L428.9 362.3L428.4 361.2L429.1 359.5L429.7 359.2L432.9 358.7L433.8 359.0L434.7 359.7L435.7 360.1L437.1 360.6Z"/>
<path fill="#ec7014" d="M442.4 367.4L441.7 369.4L442.3 372.8L443.1 372.8L443.9 373.6L444.8 375.5L444.8 378.9L443.8 379.5L443.0 381.3L441.6 379.7L441.5 377.8L442.0 376.6L441.9 375.5L441.0 374.9L440.4 375.1L439.1 373.8L437.9 373.2L438.7 370.7L439.5 369.8L439.1 367.6L439.6 365.5L440.0 364.8L439.5 362.5L438.4 361.3L440.7 361.8L441.1 362.6L441.9 363.8Z"/>
<path fill="#fe9929" d="M442.4 367.4L444.2 367.2L446.9 367.9L447.6 367.6L449.2 367.5L450.0 366.7L451.4 366.8L454.0 365.7L455.9 364.2L456.2 365.4L456.0 368.0L456.2 370.3L456.1 374.5L456.5 375.7L455.7 377.6L454.7 379.5L453.2 381.1L451.0 382.1L448.4 383.4L445.6 386.2L444.7 386.7L443.0 388.6L442.0 389.2L441.7 391.1L442.7 393.0L443.1 394.6L443.1 395.4L443.5 395.3L443.3 397.8L442.8 399.1L443.4 399.5L442.9 400.6L441.9 401.6L440.0 402.5L437.2 403.9L436.1 404.9L436.2 406.0L436.8 406.2L436.5 407.5L434.8 407.5L434.7 406.3L434.4 405.2L434.3 404.2L434.9 401.3L434.4 399.4L433.5 395.7L436.0 392.7L436.7 390.8L437.1 390.5L437.4 389.0L437.1 388.2L437.3 386.2L437.8 384.4L438.0 381.1L436.8 380.2L435.7 380.0L435.3 379.4L434.2 378.8L432.3 378.9L432.2 377.9L432.0 376.0L439.1 373.8L440.4 375.1L441.0 374.9L441.9 375.5L442.0 376.6L441.5 377.8L441.6 379.7L443.0 381.3L443.8 379.5L444.8 378.9L444.8 375.5L443.9 373.6L443.1 372.8L442.3 372.8L441.7 369.4Z"/>
<path fill="#fec44f" d="M433.5 395.7L432.3 395.4L431.5 395.7L430.4 395.3L429.5 395.3L428.1 394.1L426.4 393.7L425.8 392.0L425.8 391.1L424.8 390.8L422.3 387.9L421.7 386.3L421.2 385.9L420.4 383.8L423.0 384.1L423.7 384.4L424.5 384.3L425.9 382.6L427.9 380.4L428.8 380.2L429.1 379.3L430.4 378.3L432.2 377.9L432.3 378.9L434.2 378.8L435.3 379.4L435.7 380.0L436.8 380.2L438.0 381.1L437.8 384.4L437.3 386.2L437.1 388.2L437.4 389.0L437.1 390.5L436.7 390.8L436.0 392.7Z"/>
<path fill="#fec44f" d="M421.2 385.9L421.7 386.3L422.3 387.9L424.8 390.8L425.8 391.1L425.8 392.0L426.4 393.7L428.1 394.1L429.5 395.3L426.2 397.2L424.1 399.2L423.2 400.9L422.5 401.9L421.2 402.1L420.8 403.4L420.5 404.2L419.1 404.8L417.2 404.7L416.1 404.0L415.2 403.6L414.1 404.3L413.5 405.5L412.4 406.3L411.2 407.5L409.6 407.8L409.1 406.8L409.4 405.2L408.1 402.7L407.5 402.3L407.8 394.6L410.0 394.5L410.4 385.1L412.1 385.1L415.7 384.1L416.5 385.2L418.0 384.2L418.7 384.2L420.0 383.6L420.4 383.8Z"/>
<path fill="#fe9929" d="M389.4 382.6L390.5 382.1L391.9 381.7L393.4 381.8L394.7 382.9L395.1 382.8L404.4 382.7L406.0 383.9L411.5 384.3L415.8 383.2L417.6 382.6L419.1 382.8L420.0 383.4L420.0 383.6L418.7 384.2L418.0 384.2L416.5 385.2L415.7 384.1L412.1 385.1L410.4 385.1L410.0 394.5L407.8 394.6L407.5 402.3L407.1 412.1L405.0 413.4L403.8 413.6L402.4 413.1L401.4 412.9L401.1 411.8L400.2 411.1L399.1 412.4L397.5 410.4L396.7 408.4L396.3 405.9L395.8 404.0L395.1 399.9L395.2 396.8L394.9 395.3L394.0 394.2L392.9 392.0L391.8 388.9L391.3 387.2L389.5 384.7Z"/>
<path fill="#fe9929" d="M407.1 412.1L407.5 402.3L408.1 402.7L409.4 405.2L409.1 406.8L409.6 407.8L411.2 407.5L412.4 406.3L413.5 405.5L414.1 404.3L415.2 403.6L416.1 404.0L417.2 404.7L419.1 404.8L420.5 404.2L420.8 403.4L421.2 402.1L422.5 401.9L423.2 400.9L424.1 399.2L426.2 397.2L429.5 395.3L430.4 395.3L431.5 395.7L432.3 395.4L433.5 395.7L434.4 399.4L434.9 401.3L434.3 404.2L434.4 405.2L433.3 404.7L432.7 404.9L432.4 405.6L431.7 406.6L431.7 407.5L432.9 409.0L434.3 408.7L434.8 407.5L436.5 407.5L435.8 409.5L435.4 411.6L434.7 412.8L433.1 414.2L432.6 414.5L431.5 415.9L430.8 417.2L429.4 419.1L426.6 421.8L424.9 423.4L423.1 424.6L420.8 425.6L419.6 425.8L419.3 426.5L418.0 426.1L416.8 426.7L414.5 426.1L413.1 426.5L412.2 426.3L409.9 427.4L408.0 427.8L406.5 428.8L405.5 428.8L404.6 427.9L403.9 427.8L403.0 426.7L402.9 427.0L402.6 426.3L402.8 424.8L402.1 423.0L402.9 422.5L402.9 420.5L401.6 418.1L400.6 415.8L399.1 412.4L400.2 411.1L401.1 411.8L401.4 412.9L402.4 413.1L403.8 413.6L405.0 413.4Z"/>
<path fill="#fec44f" d="M427.4 413.4L428.2 414.2L427.4 415.4L426.9 416.3L425.6 416.7L425.2 417.6L424.3 417.8L422.8 415.8L424.1 414.1L425.4 413.1L426.5 412.6Z"/>
<path fill="#ec7014" d="M434.8 407.5L434.3 408.7L432.9 409.0L431.7 407.5L431.7 406.6L432.4 405.6L432.7 404.9L433.3 404.7L434.4 405.2L434.7 406.3Z"/>
<path fill="#fec44f" d="M477.0 369.9L477.6 371.0L478.1 372.8L478.3 375.9L478.8 377.2L478.5 378.4L478.0 379.2L477.3 377.6L476.9 378.4L477.2 380.4L476.9 381.5L476.2 382.1L475.9 384.3L474.8 387.4L473.4 391.1L471.6 396.1L470.5 399.7L469.2 402.8L467.3 403.4L465.2 404.5L464.0 403.9L462.2 402.9L461.7 401.5L461.8 399.2L461.1 397.1L461.0 395.2L461.6 393.3L462.6 392.8L462.7 391.9L463.9 389.9L464.2 388.3L463.8 387.0L463.5 385.3L463.4 382.9L464.3 381.4L464.8 379.8L465.9 379.7L467.2 379.1L468.1 378.6L469.1 378.6L470.5 377.1L472.5 375.5L473.3 374.2L473.0 373.0L474.0 373.3L475.3 371.5L475.4 369.9L476.3 368.8Z"/>
<path fill="#fec44f" d="M694.1 373.3L694.6 375.4L696.2 374.4L696.8 375.5L697.7 376.5L697.3 377.7L697.4 380.0L697.5 381.3L698.0 381.6L698.2 383.8L697.6 385.2L698.0 387.0L700.2 388.4L701.5 389.6L702.8 390.8L702.4 391.4L703.3 393.1L703.6 395.9L704.6 395.3L705.2 396.5L705.9 396.1L705.6 398.9L706.8 400.5L707.6 401.5L708.7 403.6L708.7 405.8L708.3 407.3L707.6 408.9L707.8 411.1L706.8 413.5L706.0 414.7L704.4 417.0L703.8 418.6L702.5 420.5L700.4 422.9L698.2 424.1L696.4 426.2L695.0 427.5L693.2 429.8L691.7 431.1L690.1 433.1L688.8 434.9L688.5 435.7L686.7 436.6L684.2 436.7L681.6 437.8L680.0 438.8L678.1 439.9L677.0 438.8L675.9 438.3L677.0 436.9L675.5 437.4L672.6 439.3L671.1 438.6L670.1 438.2L669.0 438.0L667.3 437.3L666.7 435.6L667.4 433.6L668.0 431.2L667.0 431.2L665.0 430.9L666.3 429.7L666.7 427.7L664.8 429.5L662.6 430.0L664.4 428.5L665.5 427.0L666.9 425.7L667.6 423.8L664.8 426.0L663.0 426.9L661.2 429.0L660.0 427.9L660.7 426.5L660.1 424.6L659.4 423.6L660.1 423.0L657.9 421.4L656.3 421.3L654.7 420.1L650.6 420.3L647.1 422.0L644.5 422.1L642.5 422.0L639.6 423.3L637.4 423.9L636.5 425.3L635.2 426.4L633.3 426.4L631.8 426.7L630.1 426.2L628.4 426.5L626.8 426.6L625.0 428.0L624.4 427.9L623.0 428.7L621.6 429.5L620.0 429.4L618.5 429.4L616.9 427.7L615.9 427.2L616.5 425.7L617.7 425.3L618.3 424.7L618.6 423.8L619.5 422.0L619.8 420.4L619.5 417.7L619.6 416.2L620.2 414.7L619.8 413.0L619.9 412.2L619.2 411.2L619.5 409.1L618.7 407.0L618.7 405.9L619.4 407.0L619.2 404.6L620.2 405.3L620.6 406.4L620.9 405.0L620.2 402.9L620.2 402.1L619.8 401.3L620.4 399.8L621.0 399.1L621.5 397.8L621.6 396.3L622.8 394.4L622.7 396.4L624.0 394.6L626.0 393.7L627.3 392.6L629.2 391.6L630.3 391.4L630.8 391.7L632.8 390.7L634.2 390.4L634.7 389.9L635.3 389.6L636.6 389.7L639.1 388.9L640.6 387.7L641.4 386.3L643.0 385.0L643.3 383.9L643.6 382.5L645.6 380.3L646.2 382.5L647.2 382.0L646.6 380.8L647.6 379.5L648.5 380.1L649.1 378.1L650.5 376.8L651.3 375.7L652.5 375.3L652.6 374.5L653.6 374.8L653.7 374.2L654.8 373.8L656.0 373.4L657.5 374.7L658.5 376.2L660.0 376.2L661.4 376.5L661.1 375.0L662.5 372.9L663.7 372.2L663.4 371.6L664.6 370.1L666.1 369.1L667.3 369.4L669.3 368.9L669.4 367.6L667.8 366.7L669.1 366.4L670.5 367.0L671.6 368.1L673.5 368.8L674.2 368.5L675.5 369.3L677.0 368.5L677.8 368.8L678.4 368.3L679.3 369.6L678.5 371.0L677.5 372.1L676.7 372.1L676.8 373.2L675.9 374.5L674.9 375.8L675.0 376.6L676.6 378.0L678.2 378.9L679.2 379.8L680.6 381.3L681.2 381.3L682.3 382.0L682.5 382.8L684.5 383.7L686.2 382.8L686.9 381.4L687.6 380.2L688.2 378.8L689.2 376.7L689.1 375.4L689.4 374.6L689.4 373.1L690.0 371.1L690.5 370.6L690.3 369.7L691.0 368.3L691.6 366.9L691.8 366.1L692.7 365.1L693.2 366.4L693.2 368.1L693.7 368.4L693.7 369.5L694.3 370.8L694.3 372.3ZM673.4 444.5L674.8 445.4L676.2 445.1L678.2 444.6L679.4 444.8L677.5 447.8L676.2 448.8L674.5 450.8L674.3 450.1L671.6 451.9L671.2 451.8L670.0 451.7L670.2 449.5L671.1 447.8L671.3 445.5L672.1 444.3Z"/>
<path fill="#fec44f" d="M742.1 442.6L740.3 444.0L737.8 445.8L735.4 446.9L735.5 446.2L734.9 445.8L737.8 443.7L738.1 442.2L736.6 441.2L737.3 440.2L739.5 439.3L741.2 437.3L742.2 435.6L742.5 433.8L742.8 433.3L742.5 432.3L742.1 429.9L742.3 428.1L743.3 427.9L743.6 429.3L744.9 430.0L744.1 432.4L743.9 435.1L745.1 433.3L745.6 434.1L744.7 436.1L745.9 436.9L747.2 437.1L749.1 436.1L750.0 436.4L747.9 438.7L746.1 440.3L744.5 440.2L743.4 441.0L742.8 442.1ZM719.7 451.8L722.6 450.4L725.0 449.0L727.4 447.1L728.7 446.4L730.1 445.0L732.5 443.7L732.2 444.9L731.9 445.9L734.2 444.9L733.9 446.0L733.1 447.1L731.4 448.3L728.4 450.2L726.5 451.3L726.3 452.5L724.6 452.6L722.0 453.5L720.1 455.2L716.7 457.9L714.1 459.0L712.5 459.7L710.6 459.7L710.0 458.8L707.9 458.7L708.3 457.7L711.0 455.8L715.7 453.2L717.4 452.7Z"/>
<path fill="#fec44f" d="M772.4 382.7L773.0 383.5L772.3 384.9L770.8 385.2L769.6 384.9L769.7 383.7L770.8 382.8L771.8 383.2ZM775.1 381.3L773.5 381.9L773.4 380.9L774.7 380.3L775.4 380.2L777.0 379.4L776.7 380.7Z"/>
<path fill="#fe9929" d="M738.2 364.6L738.8 365.6L737.2 365.5L736.5 363.9L737.8 364.6ZM735.5 363.0L733.2 362.8L732.8 362.4L733.0 361.4L734.5 361.8L735.2 362.3ZM737.5 362.3L737.1 362.8L735.6 360.5L735.3 358.9L736.1 358.9L736.7 361.1ZM733.7 359.0L733.7 359.5L732.0 358.4L730.8 357.4L730.0 356.6L730.4 356.3L731.4 356.9L733.2 358.2ZM728.5 356.4L728.0 356.5L727.0 355.9L726.2 354.9L726.3 354.4L727.6 355.5Z"/>
<path fill="#fe9929" d="M748.7 380.4L747.9 380.8L747.4 379.6L747.6 378.9ZM747.9 376.4L747.8 378.5L747.3 378.2L746.8 378.3L746.6 377.6L747.0 375.6Z"/>
<path fill="url(#h)" stroke="#c8c8c8" d="M741.1 392.6L742.6 394.2L743.4 395.4L742.4 396.1L741.3 395.4L740.0 394.2L738.9 392.8L737.8 390.9L737.7 390.0L738.7 390.1L739.8 391.0L740.5 391.9Z"/>
<circle cx="218.3" cy="291.5" r="0.5" fill="#8c2d04" stroke-width="0.2"/>
<circle cx="220.7" cy="296.3" r="0.6" fill="#8c2d04" stroke-width="0.2"/>
<circle cx="221.5" cy="300.3" r="0.6" fill="#8c2d04" stroke-width="0.2"/>
<circle cx="224.5" cy="302.3" r="0.6" fill="#8c2d04" stroke-width="0.2"/>
<circle cx="220.3" cy="302.0" r="0.5" fill="#38aaba" stroke-width="0.2"/>
<circle cx="219.5" cy="305.0" r="0.5" fill="#fe9929" stroke-width="0.2"/>
<circle cx="304.4" cy="292.0" r="0.6" fill="#8c2d04" stroke-width="0.2"/>
<circle cx="306.4" cy="293.3" r="0.6" fill="#8c2d04" stroke-width="0.2"/>
<circle cx="309.5" cy="294.3" r="0.6" fill="#8c2d04" stroke-width="0.2"/>
<circle cx="308.0" cy="297.0" r="0.7" fill="#8c2d04" stroke-width="0.2"/>
<circle cx="491.5" cy="349.2" r="0.5" fill="#ec7014" stroke-width="0.2"/>
<circle cx="462.7" cy="367.3" r="0.6" fill="#ec7014" stroke-width="0.2"/>
<circle cx="464.4" cy="369.0" r="0.5" fill="#ec7014" stroke-width="0.2"/>
<circle cx="494.0" cy="390.3" r="0.9" fill="#cc4c02" stroke-width="0.2"/>
<circle cx="377.5" cy="336.0" r="0.6" fill="#fe9929" stroke-width="0.2"/>
<circle cx="394.1" cy="242.0" r="0.5" fill="#ec7014" stroke-width="0.2"/>
<circle cx="502.5" cy="466.0" r="1.2" fill="url(#h)" stroke-width="0.2" stroke="#c8c8c8"/>
</g>
<g id="legend">
<rect x="186.5" y="518.5" width="47" height="9.5" fill="url(#h)" stroke="#cfcfcf" stroke-width="0.8"/>
<line x1="210" y1="515" x2="210" y2="518.5" stroke="#cfcfcf" stroke-width="0.8"/>
<rect x="253.6" y="518.2" width="58.6" height="9.9" fill="#38aaba"/>
<rect x="312.2" y="518.2" width="58.6" height="9.9" fill="#fee391"/>
<rect x="370.8" y="518.2" width="58.6" height="9.9" fill="#fec44f"/>
<rect x="429.4" y="518.2" width="58.6" height="9.9" fill="#fe9929"/>
<rect x="488" y="518.2" width="58.6" height="9.9" fill="#ec7014"/>
<rect x="546.6" y="518.2" width="58.8" height="9.9" fill="#cc4c02"/>
<path d="M605.4 518.2H658.8L664.1 523.15L658.8 528.1H605.4Z" fill="#8c2d04"/>
<g stroke="#6e6e6e" stroke-width="0.5">
<line x1="253.6" y1="515" x2="253.6" y2="528.1"/><line x1="312.2" y1="515" x2="312.2" y2="528.1"/><line x1="370.8" y1="515" x2="370.8" y2="528.1"/><line x1="429.4" y1="515" x2="429.4" y2="528.1"/><line x1="488" y1="515" x2="488" y2="528.1"/><line x1="546.6" y1="515" x2="546.6" y2="528.1"/><line x1="605.4" y1="515" x2="605.4" y2="528.1"/>
</g>
</g>
</svg>
<div class="abs lg" style="left:179.8px;font-size:13.4px">No data</div>
<div class="abs lg" style="left:223.8px;font-size:13.2px">0</div>
<div class="abs lg" style="left:282.4px;font-size:13.2px">1</div>
<div class="abs lg" style="left:341.0px;font-size:13.2px">2</div>
<div class="abs lg" style="left:399.6px;font-size:13.2px">3</div>
<div class="abs lg" style="left:458.2px;font-size:13.2px">4</div>
<div class="abs lg" style="left:516.8px;font-size:13.2px">5</div>
<div class="abs lg" style="left:575.6px;font-size:13.2px">6</div>
<div id="title" class="abs">Male-to-female ratio of suicide rate, <span style="display:inline-block;font-size:19.4px;line-height:20px;transform:scaleX(1.32);transform-origin:left bottom;margin-left:3.8px">2021</span></div>
<div id="sub" class="abs">Estimated ratio of male to female suicide rates; a ratio greater than one indicates higher suicide rates in men.<br>Suicide deaths are underreported in many countries due to social stigma and cultural or legal concerns. This<br>data includes modeling based on global suicide patterns, and includes adjustments and extrapolations that aim<br>to account for missing data and underreporting.</div>
<div id="foot1" class="abs"><b>Data source:</b> World Health Organization (2024)</div>
<div id="foot2" class="abs"><b>Note:</b> To allow for comparisons between countries and over time, this metric is age-standardized.</div>
<div id="foot3" class="abs">suicide | CC BY</div>
<div id="logo" class="abs"><div>Our World<br>in Data</div></div>
</body></html>
